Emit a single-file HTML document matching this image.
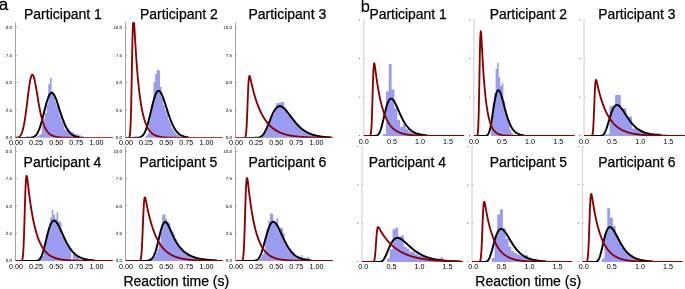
<!DOCTYPE html><html><head><meta charset="utf-8"><title>Reaction time distributions</title><style>html,body{margin:0;padding:0;background:#fff;overflow:hidden}svg{display:block;will-change:transform}text{font-family:"Liberation Sans",sans-serif;fill:#000}</style></head><body>
<svg width="685" height="289" viewBox="0 0 685 289">
<rect width="685" height="289" fill="#fff"/>
<path d="M35.34,137.85V136.99H36.96V137.85ZM36.96,137.85V136.23H38.58V137.85ZM38.58,137.85V135.32H40.20V137.85ZM40.20,137.85V134.35H41.82V137.85ZM41.82,137.85V125.12H43.44V137.85ZM43.44,137.85V118.58H45.06V137.85ZM45.06,137.85V113.03H46.68V137.85ZM46.68,137.85V104.68H48.30V137.85ZM48.30,137.85V84.30H49.92V137.85ZM49.92,137.85V78.10H51.54V137.85ZM51.54,137.85V91.00H53.16V137.85ZM53.16,137.85V96.13H54.78V137.85ZM54.78,137.85V101.84H56.40V137.85ZM56.40,137.85V105.44H58.02V137.85ZM58.02,137.85V108.25H59.64V137.85ZM59.64,137.85V116.81H61.26V137.85ZM61.26,137.85V121.15H62.88V137.85ZM62.88,137.85V124.59H64.50V137.85ZM64.50,137.85V129.68H66.12V137.85ZM66.12,137.85V127.19H67.74V137.85ZM67.74,137.85V128.48H69.36V137.85ZM69.36,137.85V130.88H70.98V137.85ZM70.98,137.85V131.74H72.60V137.85ZM72.60,137.85V132.47H74.22V137.85ZM74.22,137.85V133.89H75.84V137.85ZM75.84,137.85V134.33H77.46V137.85ZM77.46,137.85V134.82H79.08V137.85ZM79.08,137.85V135.35H80.70V137.85ZM80.70,137.85V135.84H82.32V137.85ZM82.32,137.85V136.24H83.94V137.85Z" fill="#9b9bf1"/>
<path d="M145.44,137.85V135.79H147.06V137.85ZM147.06,137.85V133.92H148.68V137.85ZM148.68,137.85V120.97H150.30V137.85ZM150.30,137.85V112.05H151.92V137.85ZM151.92,137.85V104.38H153.54V137.85ZM153.54,137.85V82.00H155.16V137.85ZM155.16,137.85V74.00H156.78V137.85ZM156.78,137.85V69.50H158.40V137.85ZM158.40,137.85V70.50H160.02V137.85ZM160.02,137.85V87.00H161.64V137.85ZM161.64,137.85V97.93H163.26V137.85ZM163.26,137.85V104.90H164.88V137.85ZM164.88,137.85V109.90H166.50V137.85ZM166.50,137.85V114.31H168.12V137.85ZM168.12,137.85V120.29H169.74V137.85ZM169.74,137.85V123.41H171.36V137.85ZM171.36,137.85V128.31H172.98V137.85ZM172.98,137.85V130.29H174.60V137.85ZM174.60,137.85V132.75H176.22V137.85ZM176.22,137.85V134.31H177.84V137.85ZM177.84,137.85V135.35H179.46V137.85ZM179.46,137.85V136.20H181.08V137.85Z" fill="#9b9bf1"/>
<path d="M261.52,137.85V135.74H263.14V137.85ZM263.14,137.85V133.82H264.76V137.85ZM264.76,137.85V131.59H266.38V137.85ZM266.38,137.85V128.55H268.00V137.85ZM268.00,137.85V124.47H269.62V137.85ZM269.62,137.85V119.68H271.24V137.85ZM271.24,137.85V116.33H272.86V137.85ZM272.86,137.85V114.82H274.48V137.85ZM274.48,137.85V110.14H276.10V137.85ZM276.10,137.85V103.30H277.72V137.85ZM277.72,137.85V103.30H279.34V137.85ZM279.34,137.85V102.60H280.96V137.85ZM280.96,137.85V102.10H282.58V137.85ZM282.58,137.85V102.10H284.20V137.85ZM284.20,137.85V107.40H285.82V137.85ZM285.82,137.85V109.70H287.44V137.85ZM287.44,137.85V114.41H289.06V137.85ZM289.06,137.85V115.82H290.68V137.85ZM290.68,137.85V117.38H292.30V137.85ZM292.30,137.85V118.63H293.92V137.85ZM293.92,137.85V121.39H295.54V137.85ZM295.54,137.85V124.09H297.16V137.85ZM297.16,137.85V125.33H298.78V137.85ZM298.78,137.85V126.94H300.40V137.85ZM300.40,137.85V128.40H302.02V137.85ZM302.02,137.85V129.86H303.64V137.85ZM303.64,137.85V130.67H305.26V137.85ZM305.26,137.85V131.65H306.88V137.85ZM306.88,137.85V132.27H308.50V137.85ZM308.50,137.85V132.24H310.12V137.85ZM310.12,137.85V133.28H311.74V137.85ZM311.74,137.85V134.01H313.36V137.85ZM313.36,137.85V134.42H314.98V137.85ZM314.98,137.85V134.88H316.60V137.85ZM316.60,137.85V135.41H318.22V137.85ZM318.22,137.85V135.74H319.84V137.85ZM319.84,137.85V136.02H321.46V137.85ZM321.46,137.85V136.50H323.08V137.85ZM323.08,137.85V136.54H324.70V137.85ZM324.70,137.85V136.84H326.32V137.85ZM326.32,137.85V136.96H327.94V137.85Z" fill="#9b9bf1"/>
<path d="M37.16,260.90V260.38H38.78V260.90ZM38.78,260.90V257.20H40.40V260.90ZM40.40,260.90V257.79H42.02V260.90ZM42.02,260.90V256.08H43.64V260.90ZM43.64,260.90V248.08H45.26V260.90ZM45.26,260.90V241.18H46.88V260.90ZM46.88,260.90V233.04H48.50V260.90ZM48.50,260.90V229.11H50.12V260.90ZM50.12,260.90V217.70H51.74V260.90ZM51.74,260.90V210.00H53.36V260.90ZM53.36,260.90V215.00H54.98V260.90ZM54.98,260.90V218.80H56.60V260.90ZM56.60,260.90V212.20H58.22V260.90ZM58.22,260.90V221.00H59.84V260.90ZM59.84,260.90V222.20H61.46V260.90ZM61.46,260.90V236.19H63.08V260.90ZM63.08,260.90V237.60H64.70V260.90ZM64.70,260.90V240.69H66.32V260.90ZM66.32,260.90V243.17H67.94V260.90ZM67.94,260.90V245.76H69.56V260.90ZM69.56,260.90V249.84H71.18V260.90ZM71.18,260.90V259.80H72.80V260.90ZM72.80,260.90V252.73H74.42V260.90ZM74.42,260.90V254.79H76.04V260.90ZM76.04,260.90V255.86H77.66V260.90ZM77.66,260.90V256.21H79.28V260.90Z" fill="#9b9bf1"/>
<path d="M147.62,260.90V259.77H149.24V260.90ZM149.24,260.90V257.76H150.86V260.90ZM150.86,260.90V260.11H152.48V260.90ZM152.48,260.90V258.91H154.10V260.90ZM154.10,260.90V256.60H155.72V260.90ZM155.72,260.90V252.73H157.34V260.90ZM157.34,260.90V248.73H158.96V260.90ZM158.96,260.90V242.87H160.58V260.90ZM160.58,260.90V231.64H162.20V260.90ZM162.20,260.90V214.40H163.82V260.90ZM163.82,260.90V214.40H165.44V260.90ZM165.44,260.90V218.81H167.06V260.90ZM167.06,260.90V221.32H168.68V260.90ZM168.68,260.90V223.36H170.30V260.90ZM170.30,260.90V230.27H171.92V260.90ZM171.92,260.90V231.41H173.54V260.90ZM173.54,260.90V234.51H175.16V260.90ZM175.16,260.90V238.88H176.78V260.90ZM176.78,260.90V243.01H178.40V260.90ZM178.40,260.90V245.78H180.02V260.90ZM180.02,260.90V247.29H181.64V260.90ZM181.64,260.90V248.12H183.26V260.90ZM183.26,260.90V251.15H184.88V260.90ZM184.88,260.90V252.54H186.50V260.90ZM186.50,260.90V253.24H188.12V260.90ZM188.12,260.90V254.61H189.74V260.90ZM189.74,260.90V255.39H191.36V260.90ZM191.36,260.90V256.24H192.98V260.90ZM192.98,260.90V256.53H194.60V260.90ZM194.60,260.90V257.02H196.22V260.90ZM196.22,260.90V257.69H197.84V260.90ZM197.84,260.90V258.26H199.46V260.90ZM199.46,260.90V258.55H201.08V260.90ZM201.08,260.90V258.78H202.70V260.90ZM202.70,260.90V258.97H204.32V260.90Z" fill="#9b9bf1"/>
<path d="M258.68,260.90V258.99H260.30V260.90ZM260.30,260.90V257.20H261.92V260.90ZM261.92,260.90V254.54H263.54V260.90ZM263.54,260.90V252.29H265.16V260.90ZM265.16,260.90V236.55H266.78V260.90ZM266.78,260.90V229.35H268.40V260.90ZM268.40,260.90V220.83H270.02V260.90ZM270.02,260.90V213.30H271.64V260.90ZM271.64,260.90V214.00H273.26V260.90ZM273.26,260.90V221.00H274.88V260.90ZM274.88,260.90V222.34H276.50V260.90ZM276.50,260.90V218.20H278.12V260.90ZM278.12,260.90V230.54H279.74V260.90ZM279.74,260.90V227.70H281.36V260.90ZM281.36,260.90V227.70H282.98V260.90ZM282.98,260.90V233.30H284.60V260.90ZM284.60,260.90V244.51H286.22V260.90ZM286.22,260.90V246.52H287.84V260.90ZM287.84,260.90V248.90H289.46V260.90ZM289.46,260.90V251.46H291.08V260.90ZM291.08,260.90V252.81H292.70V260.90ZM292.70,260.90V254.37H294.32V260.90ZM294.32,260.90V255.86H295.94V260.90ZM295.94,260.90V256.10H297.56V260.90ZM297.56,260.90V256.90H299.18V260.90ZM299.18,260.90V257.22H300.80V260.90ZM300.80,260.90V255.20H302.42V260.90ZM302.42,260.90V257.72H304.04V260.90ZM304.04,260.90V258.07H305.66V260.90ZM305.66,260.90V258.00H307.28V260.90ZM307.28,260.90V256.80H308.90V260.90ZM308.90,260.90V258.77H310.52V260.90Z" fill="#9b9bf1"/>
<path d="M383.10,135.90V134.00H385.93V135.90ZM385.93,135.90V91.50H388.76V135.90ZM388.76,135.90V64.00H391.59V135.90ZM391.59,135.90V89.50H394.42V135.90ZM394.42,135.90V108.60H397.25V135.90ZM397.25,135.90V120.00H400.08V135.90ZM400.08,135.90V127.00H402.91V135.90ZM402.91,135.90V124.20H405.74V135.90ZM405.74,135.90V129.30H408.57V135.90ZM408.57,135.90V131.50H411.40V135.90ZM411.40,135.90V132.30H414.23V135.90ZM414.23,135.90V133.00H417.06V135.90ZM417.06,135.90V133.40H419.89V135.90ZM419.89,135.90V133.60H422.72V135.90Z" fill="#9b9bf1"/>
<path d="M491.00,135.90V121.00H492.55V135.90ZM492.55,135.90V103.00H494.10V135.90ZM494.10,135.90V93.00H495.65V135.90ZM495.65,135.90V68.80H497.20V135.90ZM497.20,135.90V63.10H498.75V135.90ZM498.75,135.90V77.30H500.30V135.90ZM500.30,135.90V85.80H501.85V135.90ZM501.85,135.90V83.00H503.40V135.90ZM503.40,135.90V101.00H504.95V135.90ZM504.95,135.90V111.00H506.50V135.90ZM506.50,135.90V118.50H508.05V135.90ZM508.05,135.90V124.50H509.60V135.90ZM509.60,135.90V129.50H511.15V135.90ZM511.15,135.90V132.50H512.70V135.90ZM512.70,135.90V134.20H514.25V135.90Z" fill="#9b9bf1"/>
<path d="M603.90,135.90V134.20H609.52V135.90ZM609.52,135.90V106.20H615.14V135.90ZM615.14,135.90V95.00H620.76V135.90ZM620.76,135.90V108.30H626.38V135.90ZM626.38,135.90V116.60H632.00V135.90ZM632.00,135.90V128.40H637.62V135.90ZM637.62,135.90V129.80H643.24V135.90ZM643.24,135.90V132.20H648.86V135.90ZM648.86,135.90V133.00H654.48V135.90ZM654.48,135.90V133.30H660.10V135.90ZM660.10,135.90V134.70H665.72V135.90Z" fill="#9b9bf1"/>
<path d="M386.90,261.90V258.40H389.72V261.90ZM389.72,261.90V249.20H392.54V261.90ZM392.54,261.90V229.30H395.36V261.90ZM395.36,261.90V227.60H398.18V261.90ZM398.18,261.90V236.50H401.00V261.90ZM401.00,261.90V235.60H403.82V261.90ZM403.82,261.90V246.70H406.64V261.90ZM406.64,261.90V248.40H409.46V261.90ZM409.46,261.90V251.70H412.28V261.90ZM412.28,261.90V251.70H415.10V261.90ZM415.10,261.90V254.20H417.92V261.90ZM417.92,261.90V255.50H420.74V261.90ZM420.74,261.90V255.50H423.56V261.90ZM423.56,261.90V256.70H426.38V261.90ZM426.38,261.90V257.50H429.20V261.90ZM429.20,261.90V258.00H432.02V261.90ZM432.02,261.90V258.50H434.84V261.90ZM434.84,261.90V259.00H437.66V261.90ZM437.66,261.90V259.00H440.48V261.90ZM440.48,261.90V257.20H443.30V261.90Z" fill="#9b9bf1"/>
<path d="M491.70,261.90V258.00H494.49V261.90ZM494.49,261.90V236.50H497.28V261.90ZM497.28,261.90V214.40H500.07V261.90ZM500.07,261.90V209.30H502.86V261.90ZM502.86,261.90V228.30H505.65V261.90ZM505.65,261.90V238.70H508.44V261.90ZM508.44,261.90V246.50H511.23V261.90ZM511.23,261.90V250.90H514.02V261.90ZM514.02,261.90V253.10H516.81V261.90ZM516.81,261.90V254.50H519.60V261.90ZM519.60,261.90V255.50H522.39V261.90ZM522.39,261.90V256.50H525.18V261.90ZM525.18,261.90V255.30H527.97V261.90ZM527.97,261.90V257.50H530.76V261.90ZM530.76,261.90V258.50H533.55V261.90ZM533.55,261.90V259.20H536.34V261.90ZM536.34,261.90V259.80H539.13V261.90Z" fill="#9b9bf1"/>
<path d="M601.70,261.90V258.60H604.49V261.90ZM604.49,261.90V233.20H607.28V261.90ZM607.28,261.90V208.20H610.07V261.90ZM610.07,261.90V217.70H612.86V261.90ZM612.86,261.90V226.10H615.65V261.90ZM615.65,261.90V235.00H618.44V261.90ZM618.44,261.90V242.00H621.23V261.90ZM621.23,261.90V247.60H624.02V261.90ZM624.02,261.90V251.00H626.81V261.90ZM626.81,261.90V253.50H629.60V261.90ZM629.60,261.90V255.50H632.39V261.90ZM632.39,261.90V257.00H635.18V261.90ZM635.18,261.90V258.00H637.97V261.90ZM637.97,261.90V259.00H640.76V261.90ZM640.76,261.90V259.60H643.55V261.90Z" fill="#9b9bf1"/>
<path d="M15.50,22.40V137.85" stroke="#858585" stroke-width="0.75" fill="none"/>
<path d="M15.60,137.40h1.7" stroke="#858585" stroke-width="0.6"/>
<path d="M15.60,109.95h1.7" stroke="#858585" stroke-width="0.6"/>
<path d="M15.60,82.50h1.7" stroke="#858585" stroke-width="0.6"/>
<path d="M15.60,55.05h1.7" stroke="#858585" stroke-width="0.6"/>
<path d="M15.60,27.60h1.7" stroke="#858585" stroke-width="0.6"/>
<path d="M125.50,22.40V137.85" stroke="#858585" stroke-width="0.75" fill="none"/>
<path d="M125.60,137.40h1.7" stroke="#858585" stroke-width="0.6"/>
<path d="M125.60,109.95h1.7" stroke="#858585" stroke-width="0.6"/>
<path d="M125.60,82.50h1.7" stroke="#858585" stroke-width="0.6"/>
<path d="M125.60,55.05h1.7" stroke="#858585" stroke-width="0.6"/>
<path d="M125.60,27.60h1.7" stroke="#858585" stroke-width="0.6"/>
<path d="M235.50,22.40V137.85" stroke="#858585" stroke-width="0.75" fill="none"/>
<path d="M235.60,137.40h1.7" stroke="#858585" stroke-width="0.6"/>
<path d="M235.60,109.95h1.7" stroke="#858585" stroke-width="0.6"/>
<path d="M235.60,82.50h1.7" stroke="#858585" stroke-width="0.6"/>
<path d="M235.60,55.05h1.7" stroke="#858585" stroke-width="0.6"/>
<path d="M235.60,27.60h1.7" stroke="#858585" stroke-width="0.6"/>
<path d="M15.50,146.00V260.90" stroke="#858585" stroke-width="0.75" fill="none"/>
<path d="M15.60,260.45h1.7" stroke="#858585" stroke-width="0.6"/>
<path d="M15.60,233.20h1.7" stroke="#858585" stroke-width="0.6"/>
<path d="M15.60,205.95h1.7" stroke="#858585" stroke-width="0.6"/>
<path d="M15.60,178.70h1.7" stroke="#858585" stroke-width="0.6"/>
<path d="M15.60,151.45h1.7" stroke="#858585" stroke-width="0.6"/>
<path d="M125.50,146.00V260.90" stroke="#858585" stroke-width="0.75" fill="none"/>
<path d="M125.60,260.45h1.7" stroke="#858585" stroke-width="0.6"/>
<path d="M125.60,233.20h1.7" stroke="#858585" stroke-width="0.6"/>
<path d="M125.60,205.95h1.7" stroke="#858585" stroke-width="0.6"/>
<path d="M125.60,178.70h1.7" stroke="#858585" stroke-width="0.6"/>
<path d="M125.60,151.45h1.7" stroke="#858585" stroke-width="0.6"/>
<path d="M235.50,146.00V260.90" stroke="#858585" stroke-width="0.75" fill="none"/>
<path d="M235.60,260.45h1.7" stroke="#858585" stroke-width="0.6"/>
<path d="M235.60,233.20h1.7" stroke="#858585" stroke-width="0.6"/>
<path d="M235.60,205.95h1.7" stroke="#858585" stroke-width="0.6"/>
<path d="M235.60,178.70h1.7" stroke="#858585" stroke-width="0.6"/>
<path d="M235.60,151.45h1.7" stroke="#858585" stroke-width="0.6"/>
<path d="M363.80,20.30V135.90" stroke="#bdbdbd" stroke-width="0.75" fill="none"/>
<path d="M363.80,135.45h1.6" stroke="#aaa" stroke-width="0.6"/>
<circle cx="359.60" cy="135.45" r="0.55" fill="#555"/>
<path d="M363.80,97.00h1.6" stroke="#aaa" stroke-width="0.6"/>
<circle cx="359.60" cy="97.00" r="0.55" fill="#555"/>
<path d="M363.80,58.55h1.6" stroke="#aaa" stroke-width="0.6"/>
<circle cx="359.60" cy="58.55" r="0.55" fill="#555"/>
<path d="M363.80,20.10h1.6" stroke="#aaa" stroke-width="0.6"/>
<circle cx="359.60" cy="20.10" r="0.55" fill="#555"/>
<path d="M473.90,20.30V135.90" stroke="#bdbdbd" stroke-width="0.75" fill="none"/>
<path d="M473.90,135.45h1.6" stroke="#aaa" stroke-width="0.6"/>
<circle cx="469.70" cy="135.45" r="0.55" fill="#555"/>
<path d="M473.90,97.00h1.6" stroke="#aaa" stroke-width="0.6"/>
<circle cx="469.70" cy="97.00" r="0.55" fill="#555"/>
<path d="M473.90,58.55h1.6" stroke="#aaa" stroke-width="0.6"/>
<circle cx="469.70" cy="58.55" r="0.55" fill="#555"/>
<path d="M473.90,20.10h1.6" stroke="#aaa" stroke-width="0.6"/>
<circle cx="469.70" cy="20.10" r="0.55" fill="#555"/>
<path d="M584.00,20.30V135.90" stroke="#bdbdbd" stroke-width="0.75" fill="none"/>
<path d="M584.00,135.45h1.6" stroke="#aaa" stroke-width="0.6"/>
<circle cx="579.80" cy="135.45" r="0.55" fill="#555"/>
<path d="M584.00,97.00h1.6" stroke="#aaa" stroke-width="0.6"/>
<circle cx="579.80" cy="97.00" r="0.55" fill="#555"/>
<path d="M584.00,58.55h1.6" stroke="#aaa" stroke-width="0.6"/>
<circle cx="579.80" cy="58.55" r="0.55" fill="#555"/>
<path d="M584.00,20.10h1.6" stroke="#aaa" stroke-width="0.6"/>
<circle cx="579.80" cy="20.10" r="0.55" fill="#555"/>
<path d="M362.00,146.50V261.90" stroke="#bdbdbd" stroke-width="0.75" fill="none"/>
<path d="M362.00,261.45h1.6" stroke="#aaa" stroke-width="0.6"/>
<circle cx="357.80" cy="261.45" r="0.55" fill="#555"/>
<path d="M362.00,223.15h1.6" stroke="#aaa" stroke-width="0.6"/>
<circle cx="357.80" cy="223.15" r="0.55" fill="#555"/>
<path d="M362.00,184.85h1.6" stroke="#aaa" stroke-width="0.6"/>
<circle cx="357.80" cy="184.85" r="0.55" fill="#555"/>
<path d="M362.00,146.55h1.6" stroke="#aaa" stroke-width="0.6"/>
<circle cx="357.80" cy="146.55" r="0.55" fill="#555"/>
<path d="M472.00,146.50V261.90" stroke="#bdbdbd" stroke-width="0.75" fill="none"/>
<path d="M472.00,261.45h1.6" stroke="#aaa" stroke-width="0.6"/>
<circle cx="467.80" cy="261.45" r="0.55" fill="#555"/>
<path d="M472.00,223.15h1.6" stroke="#aaa" stroke-width="0.6"/>
<circle cx="467.80" cy="223.15" r="0.55" fill="#555"/>
<path d="M472.00,184.85h1.6" stroke="#aaa" stroke-width="0.6"/>
<circle cx="467.80" cy="184.85" r="0.55" fill="#555"/>
<path d="M472.00,146.55h1.6" stroke="#aaa" stroke-width="0.6"/>
<circle cx="467.80" cy="146.55" r="0.55" fill="#555"/>
<path d="M582.40,146.50V261.90" stroke="#bdbdbd" stroke-width="0.75" fill="none"/>
<path d="M582.40,261.45h1.6" stroke="#aaa" stroke-width="0.6"/>
<circle cx="578.20" cy="261.45" r="0.55" fill="#555"/>
<path d="M582.40,223.15h1.6" stroke="#aaa" stroke-width="0.6"/>
<circle cx="578.20" cy="223.15" r="0.55" fill="#555"/>
<path d="M582.40,184.85h1.6" stroke="#aaa" stroke-width="0.6"/>
<circle cx="578.20" cy="184.85" r="0.55" fill="#555"/>
<path d="M582.40,146.55h1.6" stroke="#aaa" stroke-width="0.6"/>
<circle cx="578.20" cy="146.55" r="0.55" fill="#555"/>
<clipPath id="c1a"><rect x="14.60" y="22.20" width="99.40" height="115.65"/></clipPath>
<g clip-path="url(#c1a)">
<path d="M18.80,137.85 L19.20,137.85 L19.60,137.85 L20.00,137.85 L20.40,137.85 L20.80,137.85 L21.20,137.85 L21.60,137.85 L22.00,137.85 L22.40,137.85 L22.80,137.85 L23.20,137.85 L23.60,137.85 L24.00,137.85 L24.40,137.85 L24.80,137.85 L25.20,137.85 L25.60,137.85 L26.00,137.85 L26.40,137.84 L26.80,137.84 L27.20,137.84 L27.60,137.83 L28.00,137.83 L28.40,137.82 L28.80,137.81 L29.20,137.79 L29.60,137.77 L30.00,137.74 L30.40,137.71 L30.80,137.67 L31.20,137.61 L31.60,137.55 L32.00,137.47 L32.40,137.37 L32.80,137.25 L33.20,137.10 L33.60,136.93 L34.00,136.72 L34.40,136.48 L34.80,136.20 L35.20,135.87 L35.60,135.49 L36.00,135.06 L36.40,134.58 L36.80,134.03 L37.20,133.41 L37.60,132.73 L38.00,131.97 L38.40,131.14 L38.80,130.24 L39.20,129.25 L39.60,128.19 L40.00,127.06 L40.40,125.85 L40.80,124.57 L41.20,123.23 L41.60,121.82 L42.00,120.36 L42.40,118.85 L42.80,117.31 L43.20,115.72 L43.60,114.12 L44.00,112.50 L44.40,110.89 L44.80,109.28 L45.20,107.69 L45.60,106.13 L46.00,104.62 L46.40,103.16 L46.80,101.76 L47.20,100.44 L47.60,99.20 L48.00,98.05 L48.40,97.00 L48.80,96.06 L49.20,95.23 L49.60,94.52 L50.00,93.93 L50.40,93.46 L50.80,93.11 L51.20,92.90 L51.60,92.80 L52.00,92.83 L52.40,92.99 L52.80,93.25 L53.20,93.64 L53.60,94.13 L54.00,94.72 L54.40,95.40 L54.80,96.18 L55.20,97.04 L55.60,97.97 L56.00,98.97 L56.40,100.03 L56.80,101.15 L57.20,102.30 L57.60,103.49 L58.00,104.71 L58.40,105.95 L58.80,107.21 L59.20,108.48 L59.60,109.74 L60.00,111.01 L60.40,112.26 L60.80,113.50 L61.20,114.72 L61.60,115.92 L62.00,117.09 L62.40,118.24 L62.80,119.35 L63.20,120.43 L63.60,121.47 L64.00,122.47 L64.40,123.44 L64.80,124.36 L65.20,125.25 L65.60,126.09 L66.00,126.89 L66.40,127.66 L66.80,128.38 L67.20,129.07 L67.60,129.71 L68.00,130.32 L68.40,130.89 L68.80,131.43 L69.20,131.93 L69.60,132.40 L70.00,132.84 L70.40,133.25 L70.80,133.63 L71.20,133.99 L71.60,134.32 L72.00,134.62 L72.40,134.90 L72.80,135.16 L73.20,135.40 L73.60,135.62 L74.00,135.82 L74.40,136.01 L74.80,136.18 L75.20,136.34 L75.60,136.48 L76.00,136.61 L76.40,136.73 L76.80,136.84 L77.20,136.94 L77.60,137.03 L78.00,137.11 L78.40,137.19 L78.80,137.25 L79.20,137.31 L79.60,137.37" stroke="#000" stroke-width="1.95" fill="none" stroke-linejoin="round"/>
<path d="M15.60,137.78 L16.00,137.75 L16.40,137.71 L16.80,137.65 L17.20,137.58 L17.60,137.49 L18.00,137.37 L18.40,137.21 L18.80,137.01 L19.20,136.75 L19.60,136.44 L20.00,136.04 L20.40,135.56 L20.80,134.97 L21.20,134.25 L21.60,133.41 L22.00,132.41 L22.40,131.24 L22.80,129.88 L23.20,128.34 L23.60,126.58 L24.00,124.62 L24.40,122.44 L24.80,120.05 L25.20,117.46 L25.60,114.68 L26.00,111.74 L26.40,108.66 L26.80,105.47 L27.20,102.22 L27.60,98.94 L28.00,95.70 L28.40,92.52 L28.80,89.48 L29.20,86.61 L29.60,83.97 L30.00,81.59 L30.40,79.53 L30.80,77.81 L31.20,76.45 L31.60,75.47 L32.00,74.89 L32.40,74.70 L32.80,74.89 L33.20,75.45 L33.60,76.36 L34.00,77.59 L34.40,79.09 L34.80,80.85 L35.20,82.82 L35.60,84.96 L36.00,87.23 L36.40,89.60 L36.80,92.03 L37.20,94.49 L37.60,96.95 L38.00,99.38 L38.40,101.76 L38.80,104.08 L39.20,106.32 L39.60,108.47 L40.00,110.51 L40.40,112.46 L40.80,114.29 L41.20,116.02 L41.60,117.64 L42.00,119.15 L42.40,120.57 L42.80,121.88 L43.20,123.11 L43.60,124.24 L44.00,125.29 L44.40,126.26 L44.80,127.16 L45.20,127.99 L45.60,128.76 L46.00,129.47 L46.40,130.12 L46.80,130.72 L47.20,131.28 L47.60,131.79 L48.00,132.27 L48.40,132.70 L48.80,133.10 L49.20,133.48 L49.60,133.82 L50.00,134.13 L50.40,134.42 L50.80,134.69 L51.20,134.94 L51.60,135.17 L52.00,135.37 L52.40,135.57 L52.80,135.75 L53.20,135.91 L53.60,136.06 L54.00,136.20 L54.40,136.33 L54.80,136.45 L55.20,136.56 L55.60,136.66 L56.00,136.75 L56.40,136.84 L56.80,136.92 L57.20,136.99 L57.60,137.06 L58.00,137.12 L58.40,137.18 L58.80,137.23 L59.20,137.28 L59.60,137.32 L60.00,137.36 L60.40,137.40 L60.80,137.44 L61.20,137.47 L61.60,137.50 L62.00,137.53 L62.40,137.55 L62.80,137.57 L63.20,137.60 L63.60,137.62 L64.00,137.63 L64.40,137.65 L64.80,137.67 L65.20,137.68 L65.60,137.69 L66.00,137.71 L66.40,137.72 L66.80,137.73 L67.20,137.74 L67.60,137.75 L68.00,137.75 L68.40,137.76 L68.80,137.77 L69.20,137.78 L69.60,137.78 L70.00,137.79 L70.40,137.79 L70.80,137.80 L71.20,137.80 L71.60,137.80 L72.00,137.81 L72.40,137.81 L72.80,137.81 L73.20,137.82 L73.60,137.82 L74.00,137.82 L74.40,137.82 L74.80,137.83 L75.20,137.83 L75.60,137.83 L76.00,137.83 L76.40,137.83 L76.80,137.83 L77.20,137.84 L77.60,137.84 L78.00,137.84 L78.40,137.84 L78.80,137.84 L79.20,137.84 L79.60,137.84 L80.00,137.84 L80.40,137.84 L80.80,137.84 L81.20,137.84 L81.60,137.84 L82.00,137.84 L82.40,137.84 L82.80,137.85 L83.20,137.85 L83.60,137.85 L84.00,137.85 L84.40,137.85 L84.80,137.85 L85.20,137.85 L85.60,137.85 L86.00,137.85 L86.40,137.85 L86.80,137.85 L87.20,137.85 L87.60,137.85 L88.00,137.85 L88.40,137.85 L88.80,137.85 L89.20,137.85 L89.60,137.85 L90.00,137.85 L90.40,137.85 L90.80,137.85 L91.20,137.85 L91.60,137.85 L92.00,137.85 L92.40,137.85 L92.80,137.85 L93.20,137.85 L93.60,137.85 L94.00,137.85 L94.40,137.85 L94.80,137.85 L95.20,137.85 L95.60,137.85 L96.00,137.85 L96.40,137.85 L96.80,137.85 L97.20,137.85 L97.60,137.85 L98.00,137.85 L98.40,137.85 L98.80,137.85 L99.20,137.85 L99.60,137.85 L100.00,137.85 L100.40,137.85 L100.80,137.85 L101.20,137.85 L101.60,137.85 L102.00,137.85 L102.40,137.85 L102.80,137.85 L103.20,137.85 L103.60,137.85 L104.00,137.85 L104.40,137.85 L104.80,137.85 L105.20,137.85 L105.60,137.85 L106.00,137.85 L106.40,137.85 L106.80,137.85 L107.20,137.85 L107.60,137.85 L108.00,137.85 L108.40,137.85 L108.80,137.85 L109.20,137.85 L109.60,137.85 L110.00,137.85 L110.40,137.85 L110.80,137.85 L111.20,137.85 L111.60,137.85 L112.00,137.85 L112.40,137.85 L112.80,137.85" stroke="#8b0000" stroke-width="1.85" fill="none" stroke-linejoin="round"/></g>
<clipPath id="c2a"><rect x="124.60" y="22.20" width="99.20" height="115.65"/></clipPath>
<g clip-path="url(#c2a)">
<path d="M129.60,137.85 L130.00,137.85 L130.40,137.85 L130.80,137.85 L131.20,137.85 L131.60,137.85 L132.00,137.85 L132.40,137.85 L132.80,137.85 L133.20,137.85 L133.60,137.85 L134.00,137.84 L134.40,137.84 L134.80,137.84 L135.20,137.83 L135.60,137.83 L136.00,137.82 L136.40,137.80 L136.80,137.78 L137.20,137.76 L137.60,137.73 L138.00,137.69 L138.40,137.63 L138.80,137.57 L139.20,137.48 L139.60,137.38 L140.00,137.25 L140.40,137.10 L140.80,136.91 L141.20,136.68 L141.60,136.42 L142.00,136.11 L142.40,135.74 L142.80,135.33 L143.20,134.84 L143.60,134.30 L144.00,133.68 L144.40,132.99 L144.80,132.22 L145.20,131.37 L145.60,130.44 L146.00,129.42 L146.40,128.32 L146.80,127.14 L147.20,125.88 L147.60,124.54 L148.00,123.13 L148.40,121.65 L148.80,120.11 L149.20,118.52 L149.60,116.89 L150.00,115.22 L150.40,113.53 L150.80,111.82 L151.20,110.11 L151.60,108.42 L152.00,106.74 L152.40,105.10 L152.80,103.50 L153.20,101.96 L153.60,100.49 L154.00,99.09 L154.40,97.78 L154.80,96.57 L155.20,95.46 L155.60,94.46 L156.00,93.58 L156.40,92.82 L156.80,92.19 L157.20,91.68 L157.60,91.29 L158.00,91.04 L158.40,90.92 L158.80,90.92 L159.20,91.04 L159.60,91.28 L160.00,91.64 L160.40,92.10 L160.80,92.67 L161.20,93.34 L161.60,94.09 L162.00,94.93 L162.40,95.85 L162.80,96.83 L163.20,97.88 L163.60,98.97 L164.00,100.12 L164.40,101.30 L164.80,102.51 L165.20,103.75 L165.60,105.00 L166.00,106.27 L166.40,107.54 L166.80,108.81 L167.20,110.07 L167.60,111.32 L168.00,112.56 L168.40,113.77 L168.80,114.97 L169.20,116.14 L169.60,117.28 L170.00,118.39 L170.40,119.46 L170.80,120.50 L171.20,121.50 L171.60,122.47 L172.00,123.40 L172.40,124.29 L172.80,125.14 L173.20,125.95 L173.60,126.73 L174.00,127.46 L174.40,128.16 L174.80,128.83 L175.20,129.45 L175.60,130.04 L176.00,130.60 L176.40,131.13 L176.80,131.62 L177.20,132.08 L177.60,132.52 L178.00,132.93 L178.40,133.30 L178.80,133.66 L179.20,133.99 L179.60,134.30 L180.00,134.58 L180.40,134.85 L180.80,135.10 L181.20,135.32 L181.60,135.54 L182.00,135.73 L182.40,135.91 L182.80,136.08 L183.20,136.23 L183.60,136.37 L184.00,136.50 L184.40,136.62 L184.80,136.73 L185.20,136.83 L185.60,136.92 L186.00,137.01 L186.40,137.09 L186.80,137.16 L187.20,137.22 L187.60,137.28 L188.00,137.33 L188.40,137.38" stroke="#000" stroke-width="1.95" fill="none" stroke-linejoin="round"/>
<path d="M125.60,137.85 L126.00,137.85 L126.40,137.85 L126.80,137.85 L127.20,137.85 L127.60,137.85 L128.00,137.84 L128.40,137.82 L128.80,137.73 L129.20,137.42 L129.60,136.49 L130.00,134.11 L130.40,128.95 L130.80,119.44 L131.20,104.56 L131.60,84.84 L132.00,62.87 L132.40,42.60 L132.80,27.59 L133.20,19.61 L133.60,19.40 L134.00,21.41 L134.40,27.26 L134.80,34.12 L135.20,41.10 L135.60,47.80 L136.00,54.10 L136.40,59.97 L136.80,65.43 L137.20,70.51 L137.60,75.24 L138.00,79.63 L138.40,83.71 L138.80,87.51 L139.20,91.04 L139.60,94.32 L140.00,97.38 L140.40,100.22 L140.80,102.86 L141.20,105.31 L141.60,107.59 L142.00,109.72 L142.40,111.69 L142.80,113.52 L143.20,115.23 L143.60,116.82 L144.00,118.29 L144.40,119.66 L144.80,120.94 L145.20,122.13 L145.60,123.23 L146.00,124.25 L146.40,125.21 L146.80,126.10 L147.20,126.92 L147.60,127.69 L148.00,128.40 L148.40,129.06 L148.80,129.68 L149.20,130.25 L149.60,130.78 L150.00,131.28 L150.40,131.74 L150.80,132.17 L151.20,132.57 L151.60,132.94 L152.00,133.28 L152.40,133.60 L152.80,133.90 L153.20,134.18 L153.60,134.44 L154.00,134.68 L154.40,134.90 L154.80,135.11 L155.20,135.30 L155.60,135.48 L156.00,135.64 L156.40,135.80 L156.80,135.94 L157.20,136.08 L157.60,136.20 L158.00,136.32 L158.40,136.42 L158.80,136.52 L159.20,136.62 L159.60,136.70 L160.00,136.78 L160.40,136.86 L160.80,136.93 L161.20,136.99 L161.60,137.05 L162.00,137.11 L162.40,137.16 L162.80,137.21 L163.20,137.25 L163.60,137.30 L164.00,137.33 L164.40,137.37 L164.80,137.40 L165.20,137.44 L165.60,137.46 L166.00,137.49 L166.40,137.52 L166.80,137.54 L167.20,137.56 L167.60,137.58 L168.00,137.60 L168.40,137.62 L168.80,137.63 L169.20,137.65 L169.60,137.66 L170.00,137.68 L170.40,137.69 L170.80,137.70 L171.20,137.71 L171.60,137.72 L172.00,137.73 L172.40,137.74 L172.80,137.75 L173.20,137.75 L173.60,137.76 L174.00,137.77 L174.40,137.77 L174.80,137.78 L175.20,137.78 L175.60,137.79 L176.00,137.79 L176.40,137.80 L176.80,137.80 L177.20,137.80 L177.60,137.81 L178.00,137.81 L178.40,137.81 L178.80,137.82 L179.20,137.82 L179.60,137.82 L180.00,137.82 L180.40,137.82 L180.80,137.83 L181.20,137.83 L181.60,137.83 L182.00,137.83 L182.40,137.83 L182.80,137.83 L183.20,137.83 L183.60,137.84 L184.00,137.84 L184.40,137.84 L184.80,137.84 L185.20,137.84 L185.60,137.84 L186.00,137.84 L186.40,137.84 L186.80,137.84 L187.20,137.84 L187.60,137.84 L188.00,137.84 L188.40,137.84 L188.80,137.84 L189.20,137.84 L189.60,137.85 L190.00,137.85 L190.40,137.85 L190.80,137.85 L191.20,137.85 L191.60,137.85 L192.00,137.85 L192.40,137.85 L192.80,137.85 L193.20,137.85 L193.60,137.85 L194.00,137.85 L194.40,137.85 L194.80,137.85 L195.20,137.85 L195.60,137.85 L196.00,137.85 L196.40,137.85 L196.80,137.85 L197.20,137.85 L197.60,137.85 L198.00,137.85 L198.40,137.85 L198.80,137.85 L199.20,137.85 L199.60,137.85 L200.00,137.85 L200.40,137.85 L200.80,137.85 L201.20,137.85 L201.60,137.85 L202.00,137.85 L202.40,137.85 L202.80,137.85 L203.20,137.85 L203.60,137.85 L204.00,137.85 L204.40,137.85 L204.80,137.85 L205.20,137.85 L205.60,137.85 L206.00,137.85 L206.40,137.85 L206.80,137.85 L207.20,137.85 L207.60,137.85 L208.00,137.85 L208.40,137.85 L208.80,137.85 L209.20,137.85 L209.60,137.85 L210.00,137.85 L210.40,137.85 L210.80,137.85 L211.20,137.85 L211.60,137.85 L212.00,137.85 L212.40,137.85 L212.80,137.85 L213.20,137.85 L213.60,137.85 L214.00,137.85 L214.40,137.85 L214.80,137.85 L215.20,137.85 L215.60,137.85 L216.00,137.85 L216.40,137.85 L216.80,137.85 L217.20,137.85 L217.60,137.85 L218.00,137.85 L218.40,137.85 L218.80,137.85 L219.20,137.85 L219.60,137.85 L220.00,137.85 L220.40,137.85 L220.80,137.85 L221.20,137.85 L221.60,137.85 L222.00,137.85 L222.40,137.85 L222.80,137.85" stroke="#8b0000" stroke-width="1.85" fill="none" stroke-linejoin="round"/></g>
<clipPath id="c3a"><rect x="234.60" y="22.20" width="99.20" height="115.65"/></clipPath>
<g clip-path="url(#c3a)">
<path d="M245.60,137.85 L246.00,137.85 L246.40,137.85 L246.80,137.85 L247.20,137.85 L247.60,137.85 L248.00,137.85 L248.40,137.85 L248.80,137.85 L249.20,137.85 L249.60,137.85 L250.00,137.85 L250.40,137.85 L250.80,137.85 L251.20,137.85 L251.60,137.85 L252.00,137.85 L252.40,137.85 L252.80,137.85 L253.20,137.85 L253.60,137.85 L254.00,137.85 L254.40,137.85 L254.80,137.84 L255.20,137.84 L255.60,137.83 L256.00,137.82 L256.40,137.81 L256.80,137.79 L257.20,137.76 L257.60,137.72 L258.00,137.66 L258.40,137.60 L258.80,137.51 L259.20,137.40 L259.60,137.26 L260.00,137.10 L260.40,136.91 L260.80,136.67 L261.20,136.40 L261.60,136.09 L262.00,135.74 L262.40,135.34 L262.80,134.89 L263.20,134.39 L263.60,133.85 L264.00,133.25 L264.40,132.61 L264.80,131.92 L265.20,131.18 L265.60,130.40 L266.00,129.58 L266.40,128.72 L266.80,127.83 L267.20,126.91 L267.60,125.97 L268.00,125.00 L268.40,124.02 L268.80,123.02 L269.20,122.02 L269.60,121.03 L270.00,120.03 L270.40,119.04 L270.80,118.07 L271.20,117.11 L271.60,116.18 L272.00,115.28 L272.40,114.40 L272.80,113.56 L273.20,112.75 L273.60,111.99 L274.00,111.26 L274.40,110.58 L274.80,109.95 L275.20,109.36 L275.60,108.83 L276.00,108.34 L276.40,107.90 L276.80,107.52 L277.20,107.18 L277.60,106.90 L278.00,106.66 L278.40,106.48 L278.80,106.34 L279.20,106.25 L279.60,106.21 L280.00,106.21 L280.40,106.25 L280.80,106.33 L281.20,106.46 L281.60,106.62 L282.00,106.82 L282.40,107.05 L282.80,107.31 L283.20,107.61 L283.60,107.93 L284.00,108.28 L284.40,108.65 L284.80,109.05 L285.20,109.46 L285.60,109.90 L286.00,110.35 L286.40,110.82 L286.80,111.30 L287.20,111.79 L287.60,112.29 L288.00,112.80 L288.40,113.32 L288.80,113.84 L289.20,114.37 L289.60,114.90 L290.00,115.44 L290.40,115.97 L290.80,116.51 L291.20,117.04 L291.60,117.57 L292.00,118.10 L292.40,118.63 L292.80,119.15 L293.20,119.66 L293.60,120.17 L294.00,120.68 L294.40,121.17 L294.80,121.66 L295.20,122.14 L295.60,122.62 L296.00,123.08 L296.40,123.54 L296.80,123.99 L297.20,124.43 L297.60,124.86 L298.00,125.28 L298.40,125.69 L298.80,126.09 L299.20,126.48 L299.60,126.87 L300.00,127.24 L300.40,127.60 L300.80,127.96 L301.20,128.30 L301.60,128.64 L302.00,128.96 L302.40,129.28 L302.80,129.58 L303.20,129.88 L303.60,130.17 L304.00,130.45 L304.40,130.72 L304.80,130.98 L305.20,131.24 L305.60,131.49 L306.00,131.72 L306.40,131.96 L306.80,132.18 L307.20,132.39 L307.60,132.60 L308.00,132.80 L308.40,133.00 L308.80,133.19 L309.20,133.37 L309.60,133.54 L310.00,133.71 L310.40,133.87 L310.80,134.03 L311.20,134.18 L311.60,134.33 L312.00,134.47 L312.40,134.60 L312.80,134.73 L313.20,134.86 L313.60,134.98 L314.00,135.09 L314.40,135.21 L314.80,135.31 L315.20,135.42 L315.60,135.52 L316.00,135.61 L316.40,135.70 L316.80,135.79 L317.20,135.88 L317.60,135.96 L318.00,136.03 L318.40,136.11 L318.80,136.18 L319.20,136.25 L319.60,136.32 L320.00,136.38 L320.40,136.44 L320.80,136.50 L321.20,136.56 L321.60,136.61 L322.00,136.66 L322.40,136.71 L322.80,136.76 L323.20,136.81 L323.60,136.85 L324.00,136.89 L324.40,136.93 L324.80,136.97 L325.20,137.01 L325.60,137.05 L326.00,137.08 L326.40,137.11 L326.80,137.14 L327.20,137.17 L327.60,137.20 L328.00,137.23 L328.40,137.26 L328.80,137.28 L329.20,137.31 L329.60,137.33 L330.00,137.35 L330.40,137.37 L330.80,137.39" stroke="#000" stroke-width="1.95" fill="none" stroke-linejoin="round"/>
<path d="M235.60,137.85 L236.00,137.85 L236.40,137.85 L236.80,137.85 L237.20,137.85 L237.60,137.85 L238.00,137.85 L238.40,137.85 L238.80,137.85 L239.20,137.85 L239.60,137.85 L240.00,137.85 L240.40,137.85 L240.80,137.85 L241.20,137.85 L241.60,137.85 L242.00,137.85 L242.40,137.85 L242.80,137.85 L243.20,137.85 L243.60,137.85 L244.00,137.84 L244.40,137.80 L244.80,137.67 L245.20,137.28 L245.60,136.27 L246.00,134.04 L246.40,129.84 L246.80,123.11 L247.20,113.93 L247.60,103.32 L248.00,92.98 L248.40,84.57 L248.80,79.05 L249.20,76.40 L249.60,75.94 L250.00,76.81 L250.40,78.34 L250.80,80.10 L251.20,81.90 L251.60,83.68 L252.00,85.41 L252.40,87.09 L252.80,88.72 L253.20,90.29 L253.60,91.81 L254.00,93.28 L254.40,94.71 L254.80,96.09 L255.20,97.43 L255.60,98.72 L256.00,99.97 L256.40,101.18 L256.80,102.36 L257.20,103.49 L257.60,104.59 L258.00,105.66 L258.40,106.69 L258.80,107.68 L259.20,108.65 L259.60,109.58 L260.00,110.49 L260.40,111.36 L260.80,112.21 L261.20,113.03 L261.60,113.82 L262.00,114.59 L262.40,115.34 L262.80,116.06 L263.20,116.75 L263.60,117.43 L264.00,118.08 L264.40,118.72 L264.80,119.33 L265.20,119.92 L265.60,120.49 L266.00,121.05 L266.40,121.59 L266.80,122.11 L267.20,122.61 L267.60,123.10 L268.00,123.57 L268.40,124.03 L268.80,124.47 L269.20,124.90 L269.60,125.31 L270.00,125.71 L270.40,126.10 L270.80,126.48 L271.20,126.84 L271.60,127.19 L272.00,127.54 L272.40,127.87 L272.80,128.18 L273.20,128.49 L273.60,128.79 L274.00,129.08 L274.40,129.36 L274.80,129.64 L275.20,129.90 L275.60,130.15 L276.00,130.40 L276.40,130.64 L276.80,130.87 L277.20,131.09 L277.60,131.31 L278.00,131.52 L278.40,131.72 L278.80,131.92 L279.20,132.11 L279.60,132.29 L280.00,132.47 L280.40,132.64 L280.80,132.81 L281.20,132.97 L281.60,133.12 L282.00,133.28 L282.40,133.42 L282.80,133.56 L283.20,133.70 L283.60,133.83 L284.00,133.96 L284.40,134.09 L284.80,134.21 L285.20,134.32 L285.60,134.44 L286.00,134.55 L286.40,134.65 L286.80,134.75 L287.20,134.85 L287.60,134.95 L288.00,135.04 L288.40,135.13 L288.80,135.22 L289.20,135.30 L289.60,135.38 L290.00,135.46 L290.40,135.54 L290.80,135.61 L291.20,135.68 L291.60,135.75 L292.00,135.82 L292.40,135.89 L292.80,135.95 L293.20,136.01 L293.60,136.07 L294.00,136.13 L294.40,136.18 L294.80,136.23 L295.20,136.29 L295.60,136.34 L296.00,136.38 L296.40,136.43 L296.80,136.48 L297.20,136.52 L297.60,136.56 L298.00,136.60 L298.40,136.64 L298.80,136.68 L299.20,136.72 L299.60,136.76 L300.00,136.79 L300.40,136.83 L300.80,136.86 L301.20,136.89 L301.60,136.92 L302.00,136.95 L302.40,136.98 L302.80,137.01 L303.20,137.03 L303.60,137.06 L304.00,137.09 L304.40,137.11 L304.80,137.13 L305.20,137.16 L305.60,137.18 L306.00,137.20 L306.40,137.22 L306.80,137.24 L307.20,137.26 L307.60,137.28 L308.00,137.30 L308.40,137.32 L308.80,137.33 L309.20,137.35 L309.60,137.36 L310.00,137.38 L310.40,137.40 L310.80,137.41 L311.20,137.42 L311.60,137.44 L312.00,137.45 L312.40,137.46 L312.80,137.48 L313.20,137.49 L313.60,137.50 L314.00,137.51 L314.40,137.52 L314.80,137.53 L315.20,137.54 L315.60,137.55 L316.00,137.56 L316.40,137.57 L316.80,137.58 L317.20,137.59 L317.60,137.60 L318.00,137.60 L318.40,137.61 L318.80,137.62 L319.20,137.63 L319.60,137.63 L320.00,137.64 L320.40,137.65 L320.80,137.65 L321.20,137.66 L321.60,137.67 L322.00,137.67 L322.40,137.68 L322.80,137.68 L323.20,137.69 L323.60,137.69 L324.00,137.70 L324.40,137.70 L324.80,137.71 L325.20,137.71 L325.60,137.72 L326.00,137.72 L326.40,137.73 L326.80,137.73 L327.20,137.73 L327.60,137.74 L328.00,137.74 L328.40,137.74 L328.80,137.75 L329.20,137.75 L329.60,137.75 L330.00,137.76 L330.40,137.76 L330.80,137.76 L331.20,137.77 L331.60,137.77 L332.00,137.77 L332.40,137.77 L332.80,137.78" stroke="#8b0000" stroke-width="1.85" fill="none" stroke-linejoin="round"/></g>
<clipPath id="c4a"><rect x="14.60" y="145.80" width="99.40" height="115.10"/></clipPath>
<g clip-path="url(#c4a)">
<path d="M22.40,260.90 L22.80,260.90 L23.20,260.90 L23.60,260.90 L24.00,260.90 L24.40,260.90 L24.80,260.90 L25.20,260.90 L25.60,260.90 L26.00,260.90 L26.40,260.90 L26.80,260.90 L27.20,260.90 L27.60,260.90 L28.00,260.90 L28.40,260.90 L28.80,260.90 L29.20,260.90 L29.60,260.90 L30.00,260.90 L30.40,260.90 L30.80,260.90 L31.20,260.90 L31.60,260.90 L32.00,260.90 L32.40,260.90 L32.80,260.90 L33.20,260.90 L33.60,260.90 L34.00,260.90 L34.40,260.90 L34.80,260.89 L35.20,260.89 L35.60,260.88 L36.00,260.85 L36.40,260.82 L36.80,260.77 L37.20,260.70 L37.60,260.59 L38.00,260.45 L38.40,260.26 L38.80,260.00 L39.20,259.68 L39.60,259.28 L40.00,258.80 L40.40,258.22 L40.80,257.54 L41.20,256.76 L41.60,255.87 L42.00,254.88 L42.40,253.77 L42.80,252.57 L43.20,251.27 L43.60,249.89 L44.00,248.43 L44.40,246.90 L44.80,245.32 L45.20,243.69 L45.60,242.05 L46.00,240.38 L46.40,238.72 L46.80,237.08 L47.20,235.46 L47.60,233.89 L48.00,232.37 L48.40,230.92 L48.80,229.54 L49.20,228.24 L49.60,227.03 L50.00,225.93 L50.40,224.92 L50.80,224.02 L51.20,223.22 L51.60,222.54 L52.00,221.97 L52.40,221.50 L52.80,221.15 L53.20,220.90 L53.60,220.75 L54.00,220.70 L54.40,220.75 L54.80,220.88 L55.20,221.11 L55.60,221.41 L56.00,221.79 L56.40,222.24 L56.80,222.75 L57.20,223.32 L57.60,223.95 L58.00,224.62 L58.40,225.33 L58.80,226.08 L59.20,226.87 L59.60,227.68 L60.00,228.51 L60.40,229.36 L60.80,230.23 L61.20,231.11 L61.60,231.99 L62.00,232.88 L62.40,233.77 L62.80,234.65 L63.20,235.53 L63.60,236.41 L64.00,237.27 L64.40,238.13 L64.80,238.97 L65.20,239.79 L65.60,240.60 L66.00,241.39 L66.40,242.17 L66.80,242.92 L67.20,243.66 L67.60,244.38 L68.00,245.07 L68.40,245.75 L68.80,246.41 L69.20,247.04 L69.60,247.65 L70.00,248.25 L70.40,248.82 L70.80,249.37 L71.20,249.90 L71.60,250.41 L72.00,250.90 L72.40,251.38 L72.80,251.83 L73.20,252.26 L73.60,252.68 L74.00,253.08 L74.40,253.46 L74.80,253.83 L75.20,254.18 L75.60,254.52 L76.00,254.84 L76.40,255.14 L76.80,255.43 L77.20,255.71 L77.60,255.98 L78.00,256.23 L78.40,256.47 L78.80,256.70 L79.20,256.92 L79.60,257.12 L80.00,257.32 L80.40,257.51 L80.80,257.69 L81.20,257.86 L81.60,258.02 L82.00,258.17 L82.40,258.32 L82.80,258.46 L83.20,258.59 L83.60,258.71 L84.00,258.83 L84.40,258.94 L84.80,259.05 L85.20,259.15 L85.60,259.24 L86.00,259.33 L86.40,259.42 L86.80,259.50 L87.20,259.57 L87.60,259.65 L88.00,259.72 L88.40,259.78 L88.80,259.84 L89.20,259.90 L89.60,259.96 L90.00,260.01 L90.40,260.06 L90.80,260.10 L91.20,260.15 L91.60,260.19 L92.00,260.23 L92.40,260.27 L92.80,260.30 L93.20,260.33 L93.60,260.37 L94.00,260.39 L94.40,260.42 L94.80,260.45" stroke="#000" stroke-width="1.95" fill="none" stroke-linejoin="round"/>
<path d="M15.60,260.90 L16.00,260.90 L16.40,260.90 L16.80,260.90 L17.20,260.90 L17.60,260.90 L18.00,260.90 L18.40,260.90 L18.80,260.90 L19.20,260.90 L19.60,260.90 L20.00,260.90 L20.40,260.90 L20.80,260.88 L21.20,260.84 L21.60,260.69 L22.00,260.27 L22.40,259.24 L22.80,257.01 L23.20,252.81 L23.60,245.85 L24.00,235.79 L24.40,223.11 L24.80,209.24 L25.20,196.16 L25.60,185.72 L26.00,178.97 L26.40,175.93 L26.80,175.89 L27.20,177.80 L27.60,180.77 L28.00,184.17 L28.40,187.65 L28.80,191.05 L29.20,194.33 L29.60,197.46 L30.00,200.44 L30.40,203.29 L30.80,206.00 L31.20,208.58 L31.60,211.04 L32.00,213.39 L32.40,215.62 L32.80,217.75 L33.20,219.78 L33.60,221.72 L34.00,223.56 L34.40,225.32 L34.80,226.99 L35.20,228.59 L35.60,230.11 L36.00,231.56 L36.40,232.94 L36.80,234.25 L37.20,235.51 L37.60,236.70 L38.00,237.84 L38.40,238.93 L38.80,239.96 L39.20,240.94 L39.60,241.88 L40.00,242.78 L40.40,243.63 L40.80,244.44 L41.20,245.22 L41.60,245.96 L42.00,246.66 L42.40,247.33 L42.80,247.97 L43.20,248.58 L43.60,249.16 L44.00,249.71 L44.40,250.23 L44.80,250.74 L45.20,251.21 L45.60,251.67 L46.00,252.10 L46.40,252.52 L46.80,252.91 L47.20,253.29 L47.60,253.65 L48.00,253.99 L48.40,254.31 L48.80,254.62 L49.20,254.92 L49.60,255.20 L50.00,255.47 L50.40,255.72 L50.80,255.97 L51.20,256.20 L51.60,256.42 L52.00,256.63 L52.40,256.83 L52.80,257.02 L53.20,257.21 L53.60,257.38 L54.00,257.55 L54.40,257.70 L54.80,257.85 L55.20,258.00 L55.60,258.13 L56.00,258.26 L56.40,258.39 L56.80,258.51 L57.20,258.62 L57.60,258.73 L58.00,258.83 L58.40,258.93 L58.80,259.02 L59.20,259.11 L59.60,259.19 L60.00,259.27 L60.40,259.35 L60.80,259.42 L61.20,259.49 L61.60,259.56 L62.00,259.62 L62.40,259.68 L62.80,259.74 L63.20,259.79 L63.60,259.84 L64.00,259.89 L64.40,259.94 L64.80,259.99 L65.20,260.03 L65.60,260.07 L66.00,260.11 L66.40,260.15 L66.80,260.18 L67.20,260.22 L67.60,260.25 L68.00,260.28 L68.40,260.31 L68.80,260.34 L69.20,260.36 L69.60,260.39 L70.00,260.41 L70.40,260.43 L70.80,260.46 L71.20,260.48 L71.60,260.50 L72.00,260.52 L72.40,260.53 L72.80,260.55 L73.20,260.57 L73.60,260.58 L74.00,260.60 L74.40,260.61 L74.80,260.63 L75.20,260.64 L75.60,260.65 L76.00,260.66 L76.40,260.67 L76.80,260.68 L77.20,260.70 L77.60,260.70 L78.00,260.71 L78.40,260.72 L78.80,260.73 L79.20,260.74 L79.60,260.75 L80.00,260.75 L80.40,260.76 L80.80,260.77 L81.20,260.77 L81.60,260.78 L82.00,260.79 L82.40,260.79 L82.80,260.80 L83.20,260.80 L83.60,260.81 L84.00,260.81 L84.40,260.81 L84.80,260.82 L85.20,260.82 L85.60,260.83 L86.00,260.83 L86.40,260.83 L86.80,260.84 L87.20,260.84 L87.60,260.84 L88.00,260.84 L88.40,260.85 L88.80,260.85 L89.20,260.85 L89.60,260.85 L90.00,260.86 L90.40,260.86 L90.80,260.86 L91.20,260.86 L91.60,260.86 L92.00,260.87 L92.40,260.87 L92.80,260.87 L93.20,260.87 L93.60,260.87 L94.00,260.87 L94.40,260.87 L94.80,260.88 L95.20,260.88 L95.60,260.88 L96.00,260.88 L96.40,260.88 L96.80,260.88 L97.20,260.88 L97.60,260.88 L98.00,260.88 L98.40,260.88 L98.80,260.88 L99.20,260.89 L99.60,260.89 L100.00,260.89 L100.40,260.89 L100.80,260.89 L101.20,260.89 L101.60,260.89 L102.00,260.89 L102.40,260.89 L102.80,260.89 L103.20,260.89 L103.60,260.89 L104.00,260.89 L104.40,260.89 L104.80,260.89 L105.20,260.89 L105.60,260.89 L106.00,260.89 L106.40,260.89 L106.80,260.89 L107.20,260.89 L107.60,260.89 L108.00,260.89 L108.40,260.90 L108.80,260.90 L109.20,260.90 L109.60,260.90 L110.00,260.90 L110.40,260.90 L110.80,260.90 L111.20,260.90 L111.60,260.90 L112.00,260.90 L112.40,260.90 L112.80,260.90" stroke="#8b0000" stroke-width="1.85" fill="none" stroke-linejoin="round"/></g>
<clipPath id="c5a"><rect x="124.60" y="145.80" width="99.20" height="115.10"/></clipPath>
<g clip-path="url(#c5a)">
<path d="M140.40,260.90 L140.80,260.90 L141.20,260.90 L141.60,260.90 L142.00,260.90 L142.40,260.90 L142.80,260.90 L143.20,260.89 L143.60,260.89 L144.00,260.89 L144.40,260.88 L144.80,260.87 L145.20,260.87 L145.60,260.85 L146.00,260.84 L146.40,260.82 L146.80,260.79 L147.20,260.75 L147.60,260.71 L148.00,260.65 L148.40,260.58 L148.80,260.48 L149.20,260.37 L149.60,260.23 L150.00,260.06 L150.40,259.86 L150.80,259.61 L151.20,259.31 L151.60,258.97 L152.00,258.56 L152.40,258.08 L152.80,257.53 L153.20,256.90 L153.60,256.19 L154.00,255.39 L154.40,254.49 L154.80,253.49 L155.20,252.40 L155.60,251.22 L156.00,249.93 L156.40,248.56 L156.80,247.10 L157.20,245.57 L157.60,243.98 L158.00,242.33 L158.40,240.65 L158.80,238.95 L159.20,237.24 L159.60,235.55 L160.00,233.89 L160.40,232.29 L160.80,230.75 L161.20,229.30 L161.60,227.95 L162.00,226.72 L162.40,225.62 L162.80,224.66 L163.20,223.84 L163.60,223.17 L164.00,222.65 L164.40,222.29 L164.80,222.07 L165.20,222.00 L165.60,222.07 L166.00,222.26 L166.40,222.58 L166.80,223.00 L167.20,223.53 L167.60,224.14 L168.00,224.82 L168.40,225.57 L168.80,226.37 L169.20,227.21 L169.60,228.09 L170.00,228.99 L170.40,229.90 L170.80,230.82 L171.20,231.74 L171.60,232.66 L172.00,233.57 L172.40,234.46 L172.80,235.35 L173.20,236.21 L173.60,237.05 L174.00,237.87 L174.40,238.67 L174.80,239.45 L175.20,240.20 L175.60,240.93 L176.00,241.63 L176.40,242.31 L176.80,242.97 L177.20,243.61 L177.60,244.22 L178.00,244.81 L178.40,245.38 L178.80,245.94 L179.20,246.47 L179.60,246.98 L180.00,247.48 L180.40,247.96 L180.80,248.42 L181.20,248.86 L181.60,249.29 L182.00,249.70 L182.40,250.10 L182.80,250.49 L183.20,250.86 L183.60,251.22 L184.00,251.56 L184.40,251.89 L184.80,252.21 L185.20,252.52 L185.60,252.82 L186.00,253.11 L186.40,253.39 L186.80,253.66 L187.20,253.91 L187.60,254.16 L188.00,254.40 L188.40,254.63 L188.80,254.86 L189.20,255.07 L189.60,255.28 L190.00,255.48 L190.40,255.67 L190.80,255.86 L191.20,256.04 L191.60,256.21 L192.00,256.38 L192.40,256.54 L192.80,256.70 L193.20,256.85 L193.60,256.99 L194.00,257.13 L194.40,257.26 L194.80,257.39 L195.20,257.52 L195.60,257.64 L196.00,257.75 L196.40,257.87 L196.80,257.97 L197.20,258.08 L197.60,258.18 L198.00,258.28 L198.40,258.37 L198.80,258.46 L199.20,258.55 L199.60,258.63 L200.00,258.71 L200.40,258.79 L200.80,258.86 L201.20,258.94 L201.60,259.01 L202.00,259.07 L202.40,259.14 L202.80,259.20 L203.20,259.26 L203.60,259.32 L204.00,259.38 L204.40,259.43 L204.80,259.48 L205.20,259.53 L205.60,259.58 L206.00,259.63 L206.40,259.67 L206.80,259.72 L207.20,259.76 L207.60,259.80 L208.00,259.84 L208.40,259.88 L208.80,259.91 L209.20,259.95 L209.60,259.98 L210.00,260.02 L210.40,260.05 L210.80,260.08 L211.20,260.11 L211.60,260.14 L212.00,260.16 L212.40,260.19 L212.80,260.21 L213.20,260.24 L213.60,260.26 L214.00,260.29 L214.40,260.31 L214.80,260.33 L215.20,260.35 L215.60,260.37 L216.00,260.39 L216.40,260.41 L216.80,260.42 L217.20,260.44" stroke="#000" stroke-width="1.95" fill="none" stroke-linejoin="round"/>
<path d="M125.60,260.90 L126.00,260.90 L126.40,260.90 L126.80,260.90 L127.20,260.90 L127.60,260.90 L128.00,260.90 L128.40,260.90 L128.80,260.90 L129.20,260.90 L129.60,260.90 L130.00,260.90 L130.40,260.90 L130.80,260.90 L131.20,260.90 L131.60,260.90 L132.00,260.90 L132.40,260.90 L132.80,260.90 L133.20,260.90 L133.60,260.90 L134.00,260.90 L134.40,260.90 L134.80,260.90 L135.20,260.90 L135.60,260.90 L136.00,260.90 L136.40,260.90 L136.80,260.90 L137.20,260.90 L137.60,260.90 L138.00,260.90 L138.40,260.90 L138.80,260.89 L139.20,260.87 L139.60,260.80 L140.00,260.60 L140.40,260.07 L140.80,258.87 L141.20,256.48 L141.60,252.31 L142.00,245.93 L142.40,237.42 L142.80,227.52 L143.20,217.52 L143.60,208.83 L144.00,202.49 L144.40,198.80 L144.80,197.45 L145.20,197.78 L145.60,199.11 L146.00,200.94 L146.40,202.94 L146.80,204.96 L147.20,206.95 L147.60,208.87 L148.00,210.73 L148.40,212.52 L148.80,214.25 L149.20,215.91 L149.60,217.52 L150.00,219.07 L150.40,220.56 L150.80,222.00 L151.20,223.39 L151.60,224.73 L152.00,226.02 L152.40,227.27 L152.80,228.47 L153.20,229.63 L153.60,230.75 L154.00,231.82 L154.40,232.86 L154.80,233.86 L155.20,234.83 L155.60,235.76 L156.00,236.66 L156.40,237.52 L156.80,238.36 L157.20,239.16 L157.60,239.94 L158.00,240.69 L158.40,241.41 L158.80,242.10 L159.20,242.78 L159.60,243.42 L160.00,244.05 L160.40,244.65 L160.80,245.23 L161.20,245.79 L161.60,246.33 L162.00,246.85 L162.40,247.35 L162.80,247.83 L163.20,248.30 L163.60,248.75 L164.00,249.18 L164.40,249.60 L164.80,250.01 L165.20,250.40 L165.60,250.77 L166.00,251.13 L166.40,251.48 L166.80,251.82 L167.20,252.14 L167.60,252.45 L168.00,252.76 L168.40,253.05 L168.80,253.33 L169.20,253.60 L169.60,253.86 L170.00,254.11 L170.40,254.35 L170.80,254.59 L171.20,254.81 L171.60,255.03 L172.00,255.24 L172.40,255.44 L172.80,255.64 L173.20,255.82 L173.60,256.01 L174.00,256.18 L174.40,256.35 L174.80,256.51 L175.20,256.67 L175.60,256.82 L176.00,256.96 L176.40,257.11 L176.80,257.24 L177.20,257.37 L177.60,257.50 L178.00,257.62 L178.40,257.74 L178.80,257.85 L179.20,257.96 L179.60,258.06 L180.00,258.16 L180.40,258.26 L180.80,258.36 L181.20,258.45 L181.60,258.53 L182.00,258.62 L182.40,258.70 L182.80,258.78 L183.20,258.85 L183.60,258.93 L184.00,259.00 L184.40,259.07 L184.80,259.13 L185.20,259.19 L185.60,259.26 L186.00,259.31 L186.40,259.37 L186.80,259.43 L187.20,259.48 L187.60,259.53 L188.00,259.58 L188.40,259.63 L188.80,259.67 L189.20,259.71 L189.60,259.76 L190.00,259.80 L190.40,259.84 L190.80,259.88 L191.20,259.91 L191.60,259.95 L192.00,259.98 L192.40,260.01 L192.80,260.05 L193.20,260.08 L193.60,260.11 L194.00,260.13 L194.40,260.16 L194.80,260.19 L195.20,260.21 L195.60,260.24 L196.00,260.26 L196.40,260.28 L196.80,260.31 L197.20,260.33 L197.60,260.35 L198.00,260.37 L198.40,260.39 L198.80,260.40 L199.20,260.42 L199.60,260.44 L200.00,260.46 L200.40,260.47 L200.80,260.49 L201.20,260.50 L201.60,260.52 L202.00,260.53 L202.40,260.54 L202.80,260.56 L203.20,260.57 L203.60,260.58 L204.00,260.59 L204.40,260.60 L204.80,260.61 L205.20,260.62 L205.60,260.63 L206.00,260.64 L206.40,260.65 L206.80,260.66 L207.20,260.67 L207.60,260.68 L208.00,260.69 L208.40,260.69 L208.80,260.70 L209.20,260.71 L209.60,260.71 L210.00,260.72 L210.40,260.73 L210.80,260.73 L211.20,260.74 L211.60,260.75 L212.00,260.75 L212.40,260.76 L212.80,260.76 L213.20,260.77 L213.60,260.77 L214.00,260.78 L214.40,260.78 L214.80,260.78 L215.20,260.79 L215.60,260.79 L216.00,260.80 L216.40,260.80 L216.80,260.80 L217.20,260.81 L217.60,260.81 L218.00,260.81 L218.40,260.82 L218.80,260.82 L219.20,260.82 L219.60,260.83 L220.00,260.83 L220.40,260.83 L220.80,260.83 L221.20,260.84 L221.60,260.84 L222.00,260.84 L222.40,260.84 L222.80,260.84" stroke="#8b0000" stroke-width="1.85" fill="none" stroke-linejoin="round"/></g>
<clipPath id="c6a"><rect x="234.60" y="145.80" width="99.20" height="115.10"/></clipPath>
<g clip-path="url(#c6a)">
<path d="M242.80,260.90 L243.20,260.90 L243.60,260.90 L244.00,260.90 L244.40,260.90 L244.80,260.90 L245.20,260.90 L245.60,260.90 L246.00,260.90 L246.40,260.90 L246.80,260.90 L247.20,260.90 L247.60,260.90 L248.00,260.90 L248.40,260.90 L248.80,260.90 L249.20,260.90 L249.60,260.90 L250.00,260.90 L250.40,260.90 L250.80,260.90 L251.20,260.90 L251.60,260.90 L252.00,260.89 L252.40,260.89 L252.80,260.88 L253.20,260.87 L253.60,260.85 L254.00,260.82 L254.40,260.79 L254.80,260.73 L255.20,260.66 L255.60,260.56 L256.00,260.43 L256.40,260.26 L256.80,260.06 L257.20,259.80 L257.60,259.49 L258.00,259.11 L258.40,258.67 L258.80,258.15 L259.20,257.56 L259.60,256.88 L260.00,256.12 L260.40,255.28 L260.80,254.35 L261.20,253.34 L261.60,252.25 L262.00,251.08 L262.40,249.83 L262.80,248.53 L263.20,247.17 L263.60,245.76 L264.00,244.31 L264.40,242.84 L264.80,241.35 L265.20,239.85 L265.60,238.36 L266.00,236.88 L266.40,235.43 L266.80,234.02 L267.20,232.65 L267.60,231.34 L268.00,230.09 L268.40,228.91 L268.80,227.81 L269.20,226.79 L269.60,225.86 L270.00,225.02 L270.40,224.28 L270.80,223.63 L271.20,223.09 L271.60,222.64 L272.00,222.29 L272.40,222.03 L272.80,221.87 L273.20,221.80 L273.60,221.82 L274.00,221.93 L274.40,222.12 L274.80,222.39 L275.20,222.73 L275.60,223.14 L276.00,223.62 L276.40,224.15 L276.80,224.74 L277.20,225.38 L277.60,226.06 L278.00,226.78 L278.40,227.53 L278.80,228.32 L279.20,229.13 L279.60,229.96 L280.00,230.81 L280.40,231.67 L280.80,232.55 L281.20,233.42 L281.60,234.31 L282.00,235.19 L282.40,236.07 L282.80,236.94 L283.20,237.80 L283.60,238.66 L284.00,239.50 L284.40,240.33 L284.80,241.15 L285.20,241.95 L285.60,242.73 L286.00,243.49 L286.40,244.24 L286.80,244.96 L287.20,245.66 L287.60,246.35 L288.00,247.01 L288.40,247.65 L288.80,248.27 L289.20,248.86 L289.60,249.44 L290.00,249.99 L290.40,250.53 L290.80,251.04 L291.20,251.53 L291.60,252.01 L292.00,252.46 L292.40,252.89 L292.80,253.31 L293.20,253.71 L293.60,254.08 L294.00,254.45 L294.40,254.79 L294.80,255.12 L295.20,255.43 L295.60,255.73 L296.00,256.02 L296.40,256.29 L296.80,256.54 L297.20,256.79 L297.60,257.02 L298.00,257.24 L298.40,257.44 L298.80,257.64 L299.20,257.83 L299.60,258.01 L300.00,258.17 L300.40,258.33 L300.80,258.48 L301.20,258.62 L301.60,258.76 L302.00,258.88 L302.40,259.00 L302.80,259.12 L303.20,259.22 L303.60,259.32 L304.00,259.42 L304.40,259.51 L304.80,259.59 L305.20,259.67 L305.60,259.74 L306.00,259.81 L306.40,259.88 L306.80,259.94 L307.20,260.00 L307.60,260.06 L308.00,260.11 L308.40,260.16 L308.80,260.20 L309.20,260.25 L309.60,260.29 L310.00,260.33 L310.40,260.36 L310.80,260.39 L311.20,260.43" stroke="#000" stroke-width="1.95" fill="none" stroke-linejoin="round"/>
<path d="M235.60,260.90 L236.00,260.90 L236.40,260.90 L236.80,260.90 L237.20,260.90 L237.60,260.90 L238.00,260.90 L238.40,260.90 L238.80,260.90 L239.20,260.90 L239.60,260.90 L240.00,260.90 L240.40,260.90 L240.80,260.90 L241.20,260.88 L241.60,260.84 L242.00,260.70 L242.40,260.30 L242.80,259.32 L243.20,257.20 L243.60,253.16 L244.00,246.46 L244.40,236.72 L244.80,224.41 L245.20,210.87 L245.60,198.06 L246.00,187.80 L246.40,181.14 L246.80,178.13 L247.20,178.08 L247.60,179.98 L248.00,182.93 L248.40,186.31 L248.80,189.77 L249.20,193.16 L249.60,196.41 L250.00,199.52 L250.40,202.47 L250.80,205.29 L251.20,207.97 L251.60,210.52 L252.00,212.95 L252.40,215.26 L252.80,217.46 L253.20,219.55 L253.60,221.54 L254.00,223.44 L254.40,225.24 L254.80,226.96 L255.20,228.60 L255.60,230.15 L256.00,231.64 L256.40,233.05 L256.80,234.39 L257.20,235.66 L257.60,236.88 L258.00,238.04 L258.40,239.14 L258.80,240.19 L259.20,241.19 L259.60,242.14 L260.00,243.04 L260.40,243.90 L260.80,244.72 L261.20,245.50 L261.60,246.24 L262.00,246.95 L262.40,247.62 L262.80,248.26 L263.20,248.87 L263.60,249.45 L264.00,250.00 L264.40,250.53 L264.80,251.03 L265.20,251.50 L265.60,251.95 L266.00,252.39 L266.40,252.80 L266.80,253.19 L267.20,253.56 L267.60,253.91 L268.00,254.25 L268.40,254.57 L268.80,254.87 L269.20,255.16 L269.60,255.44 L270.00,255.70 L270.40,255.95 L270.80,256.19 L271.20,256.42 L271.60,256.63 L272.00,256.84 L272.40,257.04 L272.80,257.22 L273.20,257.40 L273.60,257.57 L274.00,257.73 L274.40,257.88 L274.80,258.03 L275.20,258.17 L275.60,258.30 L276.00,258.42 L276.40,258.54 L276.80,258.66 L277.20,258.76 L277.60,258.87 L278.00,258.96 L278.40,259.06 L278.80,259.15 L279.20,259.23 L279.60,259.31 L280.00,259.39 L280.40,259.46 L280.80,259.53 L281.20,259.60 L281.60,259.66 L282.00,259.72 L282.40,259.78 L282.80,259.83 L283.20,259.88 L283.60,259.93 L284.00,259.98 L284.40,260.02 L284.80,260.06 L285.20,260.10 L285.60,260.14 L286.00,260.18 L286.40,260.21 L286.80,260.25 L287.20,260.28 L287.60,260.31 L288.00,260.34 L288.40,260.36 L288.80,260.39 L289.20,260.41 L289.60,260.44 L290.00,260.46 L290.40,260.48 L290.80,260.50 L291.20,260.52 L291.60,260.54 L292.00,260.56 L292.40,260.57 L292.80,260.59 L293.20,260.60 L293.60,260.62 L294.00,260.63 L294.40,260.64 L294.80,260.66 L295.20,260.67 L295.60,260.68 L296.00,260.69 L296.40,260.70 L296.80,260.71 L297.20,260.72 L297.60,260.73 L298.00,260.74 L298.40,260.74 L298.80,260.75 L299.20,260.76 L299.60,260.77 L300.00,260.77 L300.40,260.78 L300.80,260.78 L301.20,260.79 L301.60,260.79 L302.00,260.80 L302.40,260.80 L302.80,260.81 L303.20,260.81 L303.60,260.82 L304.00,260.82 L304.40,260.83 L304.80,260.83 L305.20,260.83 L305.60,260.84 L306.00,260.84 L306.40,260.84 L306.80,260.84 L307.20,260.85 L307.60,260.85 L308.00,260.85 L308.40,260.85 L308.80,260.86 L309.20,260.86 L309.60,260.86 L310.00,260.86 L310.40,260.86 L310.80,260.87 L311.20,260.87 L311.60,260.87 L312.00,260.87 L312.40,260.87 L312.80,260.87 L313.20,260.87 L313.60,260.88 L314.00,260.88 L314.40,260.88 L314.80,260.88 L315.20,260.88 L315.60,260.88 L316.00,260.88 L316.40,260.88 L316.80,260.88 L317.20,260.88 L317.60,260.89 L318.00,260.89 L318.40,260.89 L318.80,260.89 L319.20,260.89 L319.60,260.89 L320.00,260.89 L320.40,260.89 L320.80,260.89 L321.20,260.89 L321.60,260.89 L322.00,260.89 L322.40,260.89 L322.80,260.89 L323.20,260.89 L323.60,260.89 L324.00,260.89 L324.40,260.89 L324.80,260.89 L325.20,260.89 L325.60,260.89 L326.00,260.89 L326.40,260.90 L326.80,260.90 L327.20,260.90 L327.60,260.90 L328.00,260.90 L328.40,260.90 L328.80,260.90 L329.20,260.90 L329.60,260.90 L330.00,260.90 L330.40,260.90 L330.80,260.90 L331.20,260.90 L331.60,260.90 L332.00,260.90 L332.40,260.90 L332.80,260.90" stroke="#8b0000" stroke-width="1.85" fill="none" stroke-linejoin="round"/></g>
<clipPath id="c1b"><rect x="362.80" y="20.10" width="102.70" height="115.80"/></clipPath>
<g clip-path="url(#c1b)">
<path d="M370.60,135.90 L371.00,135.90 L371.40,135.90 L371.80,135.90 L372.20,135.90 L372.60,135.90 L373.00,135.90 L373.40,135.90 L373.80,135.90 L374.20,135.89 L374.60,135.89 L375.00,135.87 L375.40,135.84 L375.80,135.80 L376.20,135.73 L376.60,135.62 L377.00,135.46 L377.40,135.25 L377.80,134.96 L378.20,134.58 L378.60,134.10 L379.00,133.51 L379.40,132.80 L379.80,131.97 L380.20,131.01 L380.60,129.92 L381.00,128.71 L381.40,127.38 L381.80,125.94 L382.20,124.41 L382.60,122.81 L383.00,121.14 L383.40,119.42 L383.80,117.69 L384.20,115.94 L384.60,114.21 L385.00,112.51 L385.40,110.86 L385.80,109.27 L386.20,107.77 L386.60,106.35 L387.00,105.03 L387.40,103.83 L387.80,102.75 L388.20,101.78 L388.60,100.95 L389.00,100.24 L389.40,99.66 L389.80,99.21 L390.20,98.89 L390.60,98.69 L391.00,98.60 L391.40,98.63 L391.80,98.76 L392.20,99.00 L392.60,99.32 L393.00,99.74 L393.40,100.23 L393.80,100.79 L394.20,101.41 L394.60,102.10 L395.00,102.83 L395.40,103.61 L395.80,104.42 L396.20,105.26 L396.60,106.13 L397.00,107.02 L397.40,107.92 L397.80,108.83 L398.20,109.74 L398.60,110.66 L399.00,111.57 L399.40,112.48 L399.80,113.38 L400.20,114.27 L400.60,115.14 L401.00,116.00 L401.40,116.84 L401.80,117.66 L402.20,118.46 L402.60,119.24 L403.00,119.99 L403.40,120.73 L403.80,121.44 L404.20,122.12 L404.60,122.78 L405.00,123.42 L405.40,124.04 L405.80,124.63 L406.20,125.19 L406.60,125.74 L407.00,126.26 L407.40,126.76 L407.80,127.24 L408.20,127.69 L408.60,128.13 L409.00,128.54 L409.40,128.94 L409.80,129.32 L410.20,129.67 L410.60,130.02 L411.00,130.34 L411.40,130.65 L411.80,130.94 L412.20,131.22 L412.60,131.48 L413.00,131.73 L413.40,131.97 L413.80,132.19 L414.20,132.40 L414.60,132.61 L415.00,132.80 L415.40,132.97 L415.80,133.14 L416.20,133.30 L416.60,133.46 L417.00,133.60 L417.40,133.73 L417.80,133.86 L418.20,133.98 L418.60,134.10 L419.00,134.20 L419.40,134.30 L419.80,134.40 L420.20,134.49 L420.60,134.57 L421.00,134.65 L421.40,134.73 L421.80,134.80 L422.20,134.86 L422.60,134.92 L423.00,134.98 L423.40,135.04 L423.80,135.09 L424.20,135.14 L424.60,135.18 L425.00,135.23 L425.40,135.27 L425.80,135.31 L426.20,135.34 L426.60,135.38 L427.00,135.41 L427.40,135.44" stroke="#000" stroke-width="1.95" fill="none" stroke-linejoin="round"/>
<path d="M363.80,135.90 L364.20,135.90 L364.60,135.90 L365.00,135.90 L365.40,135.90 L365.80,135.90 L366.20,135.90 L366.60,135.90 L367.00,135.90 L367.40,135.90 L367.80,135.90 L368.20,135.90 L368.60,135.90 L369.00,135.90 L369.40,135.89 L369.80,135.83 L370.20,135.59 L370.60,134.83 L371.00,132.79 L371.40,128.34 L371.80,120.34 L372.20,108.59 L372.60,94.52 L373.00,80.91 L373.40,70.54 L373.80,64.74 L374.20,63.10 L374.60,64.25 L375.00,66.79 L375.40,69.84 L375.80,72.95 L376.20,75.96 L376.60,78.85 L377.00,81.60 L377.40,84.21 L377.80,86.70 L378.20,89.08 L378.60,91.33 L379.00,93.48 L379.40,95.52 L379.80,97.47 L380.20,99.32 L380.60,101.08 L381.00,102.76 L381.40,104.36 L381.80,105.88 L382.20,107.32 L382.60,108.70 L383.00,110.01 L383.40,111.26 L383.80,112.45 L384.20,113.58 L384.60,114.65 L385.00,115.68 L385.40,116.65 L385.80,117.58 L386.20,118.46 L386.60,119.30 L387.00,120.10 L387.40,120.86 L387.80,121.59 L388.20,122.28 L388.60,122.93 L389.00,123.56 L389.40,124.15 L389.80,124.72 L390.20,125.26 L390.60,125.77 L391.00,126.26 L391.40,126.72 L391.80,127.16 L392.20,127.59 L392.60,127.99 L393.00,128.37 L393.40,128.73 L393.80,129.08 L394.20,129.40 L394.60,129.72 L395.00,130.02 L395.40,130.30 L395.80,130.57 L396.20,130.83 L396.60,131.07 L397.00,131.30 L397.40,131.52 L397.80,131.74 L398.20,131.94 L398.60,132.13 L399.00,132.31 L399.40,132.48 L399.80,132.65 L400.20,132.80 L400.60,132.95 L401.00,133.09 L401.40,133.23 L401.80,133.36 L402.20,133.48 L402.60,133.60 L403.00,133.71 L403.40,133.81 L403.80,133.91 L404.20,134.01 L404.60,134.10 L405.00,134.19 L405.40,134.27 L405.80,134.35 L406.20,134.42 L406.60,134.49 L407.00,134.56 L407.40,134.63 L407.80,134.69 L408.20,134.75 L408.60,134.80 L409.00,134.86 L409.40,134.91 L409.80,134.95 L410.20,135.00 L410.60,135.04 L411.00,135.08 L411.40,135.12 L411.80,135.16 L412.20,135.20 L412.60,135.23 L413.00,135.26 L413.40,135.29 L413.80,135.32 L414.20,135.35 L414.60,135.38 L415.00,135.40 L415.40,135.43 L415.80,135.45 L416.20,135.47 L416.60,135.49 L417.00,135.51 L417.40,135.53 L417.80,135.55 L418.20,135.56 L418.60,135.58 L419.00,135.60 L419.40,135.61 L419.80,135.62 L420.20,135.64 L420.60,135.65 L421.00,135.66 L421.40,135.67 L421.80,135.68 L422.20,135.70 L422.60,135.71 L423.00,135.71 L423.40,135.72 L423.80,135.73 L424.20,135.74 L424.60,135.75 L425.00,135.76 L425.40,135.76 L425.80,135.77 L426.20,135.78 L426.60,135.78 L427.00,135.79 L427.40,135.79 L427.80,135.80 L428.20,135.80 L428.60,135.81 L429.00,135.81 L429.40,135.82 L429.80,135.82 L430.20,135.82 L430.60,135.83 L431.00,135.83 L431.40,135.83 L431.80,135.84 L432.20,135.84 L432.60,135.84 L433.00,135.85 L433.40,135.85 L433.80,135.85 L434.20,135.85 L434.60,135.86 L435.00,135.86 L435.40,135.86 L435.80,135.86 L436.20,135.86 L436.60,135.87 L437.00,135.87 L437.40,135.87 L437.80,135.87 L438.20,135.87 L438.60,135.87 L439.00,135.87 L439.40,135.88 L439.80,135.88 L440.20,135.88 L440.60,135.88 L441.00,135.88 L441.40,135.88 L441.80,135.88 L442.20,135.88 L442.60,135.88 L443.00,135.88 L443.40,135.89 L443.80,135.89 L444.20,135.89 L444.60,135.89 L445.00,135.89 L445.40,135.89 L445.80,135.89 L446.20,135.89 L446.60,135.89 L447.00,135.89 L447.40,135.89 L447.80,135.89 L448.20,135.89 L448.60,135.89 L449.00,135.89 L449.40,135.89 L449.80,135.89 L450.20,135.89 L450.60,135.89 L451.00,135.89 L451.40,135.89 L451.80,135.89 L452.20,135.89 L452.60,135.90 L453.00,135.90 L453.40,135.90 L453.80,135.90 L454.20,135.90 L454.60,135.90 L455.00,135.90 L455.40,135.90 L455.80,135.90 L456.20,135.90 L456.60,135.90 L457.00,135.90 L457.40,135.90 L457.80,135.90 L458.20,135.90 L458.60,135.90 L459.00,135.90 L459.40,135.90 L459.80,135.90 L460.20,135.90 L460.60,135.90 L461.00,135.90 L461.40,135.90 L461.80,135.90 L462.20,135.90 L462.60,135.90 L463.00,135.90 L463.40,135.90 L463.80,135.90 L464.20,135.90" stroke="#8b0000" stroke-width="1.85" fill="none" stroke-linejoin="round"/></g>
<clipPath id="c2b"><rect x="472.90" y="20.10" width="103.00" height="115.80"/></clipPath>
<g clip-path="url(#c2b)">
<path d="M477.50,135.90 L477.90,135.90 L478.30,135.90 L478.70,135.90 L479.10,135.90 L479.50,135.90 L479.90,135.90 L480.30,135.90 L480.70,135.90 L481.10,135.90 L481.50,135.90 L481.90,135.90 L482.30,135.90 L482.70,135.90 L483.10,135.90 L483.50,135.90 L483.90,135.90 L484.30,135.90 L484.70,135.89 L485.10,135.87 L485.50,135.84 L485.90,135.79 L486.30,135.70 L486.70,135.55 L487.10,135.32 L487.50,134.99 L487.90,134.53 L488.30,133.91 L488.70,133.11 L489.10,132.10 L489.50,130.87 L489.90,129.41 L490.30,127.72 L490.70,125.80 L491.10,123.68 L491.50,121.38 L491.90,118.92 L492.30,116.35 L492.70,113.72 L493.10,111.05 L493.50,108.40 L493.90,105.82 L494.30,103.34 L494.70,101.01 L495.10,98.85 L495.50,96.90 L495.90,95.17 L496.30,93.69 L496.70,92.47 L497.10,91.52 L497.50,90.82 L497.90,90.39 L498.30,90.21 L498.70,90.27 L499.10,90.55 L499.50,91.04 L499.90,91.73 L500.30,92.58 L500.70,93.59 L501.10,94.73 L501.50,95.98 L501.90,97.32 L502.30,98.73 L502.70,100.21 L503.10,101.72 L503.50,103.25 L503.90,104.80 L504.30,106.35 L504.70,107.89 L505.10,109.40 L505.50,110.89 L505.90,112.34 L506.30,113.75 L506.70,115.11 L507.10,116.42 L507.50,117.68 L507.90,118.89 L508.30,120.04 L508.70,121.13 L509.10,122.17 L509.50,123.15 L509.90,124.07 L510.30,124.95 L510.70,125.76 L511.10,126.53 L511.50,127.25 L511.90,127.92 L512.30,128.55 L512.70,129.13 L513.10,129.67 L513.50,130.17 L513.90,130.64 L514.30,131.07 L514.70,131.47 L515.10,131.84 L515.50,132.18 L515.90,132.50 L516.30,132.79 L516.70,133.05 L517.10,133.30 L517.50,133.52 L517.90,133.73 L518.30,133.92 L518.70,134.09 L519.10,134.25 L519.50,134.40 L519.90,134.53 L520.30,134.65 L520.70,134.76 L521.10,134.87 L521.50,134.96 L521.90,135.04 L522.30,135.12 L522.70,135.19 L523.10,135.26 L523.50,135.32 L523.90,135.37 L524.30,135.42" stroke="#000" stroke-width="1.95" fill="none" stroke-linejoin="round"/>
<path d="M473.90,135.90 L474.30,135.90 L474.70,135.90 L475.10,135.90 L475.50,135.90 L475.90,135.90 L476.30,135.89 L476.70,135.84 L477.10,135.61 L477.50,134.76 L477.90,132.18 L478.30,125.96 L478.70,113.93 L479.10,95.41 L479.50,72.92 L479.90,51.74 L480.30,37.12 L480.70,31.22 L481.10,32.67 L481.50,38.47 L481.90,45.96 L482.30,53.62 L482.70,60.86 L483.10,67.51 L483.50,73.59 L483.90,79.12 L484.30,84.16 L484.70,88.76 L485.10,92.95 L485.50,96.76 L485.90,100.24 L486.30,103.41 L486.70,106.29 L487.10,108.92 L487.50,111.32 L487.90,113.50 L488.30,115.49 L488.70,117.30 L489.10,118.96 L489.50,120.46 L489.90,121.83 L490.30,123.08 L490.70,124.22 L491.10,125.26 L491.50,126.20 L491.90,127.07 L492.30,127.85 L492.70,128.56 L493.10,129.22 L493.50,129.81 L493.90,130.35 L494.30,130.84 L494.70,131.29 L495.10,131.70 L495.50,132.08 L495.90,132.41 L496.30,132.72 L496.70,133.01 L497.10,133.26 L497.50,133.50 L497.90,133.71 L498.30,133.91 L498.70,134.08 L499.10,134.24 L499.50,134.39 L499.90,134.53 L500.30,134.65 L500.70,134.76 L501.10,134.86 L501.50,134.95 L501.90,135.04 L502.30,135.11 L502.70,135.18 L503.10,135.25 L503.50,135.30 L503.90,135.36 L504.30,135.41 L504.70,135.45 L505.10,135.49 L505.50,135.53 L505.90,135.56 L506.30,135.59 L506.70,135.62 L507.10,135.64 L507.50,135.67 L507.90,135.69 L508.30,135.71 L508.70,135.72 L509.10,135.74 L509.50,135.75 L509.90,135.77 L510.30,135.78 L510.70,135.79 L511.10,135.80 L511.50,135.81 L511.90,135.82 L512.30,135.82 L512.70,135.83 L513.10,135.84 L513.50,135.84 L513.90,135.85 L514.30,135.85 L514.70,135.86 L515.10,135.86 L515.50,135.86 L515.90,135.87 L516.30,135.87 L516.70,135.87 L517.10,135.87 L517.50,135.88 L517.90,135.88 L518.30,135.88 L518.70,135.88 L519.10,135.88 L519.50,135.89 L519.90,135.89 L520.30,135.89 L520.70,135.89 L521.10,135.89 L521.50,135.89 L521.90,135.89 L522.30,135.89 L522.70,135.89 L523.10,135.89 L523.50,135.89 L523.90,135.89 L524.30,135.90 L524.70,135.90 L525.10,135.90 L525.50,135.90 L525.90,135.90 L526.30,135.90 L526.70,135.90 L527.10,135.90 L527.50,135.90 L527.90,135.90 L528.30,135.90 L528.70,135.90 L529.10,135.90 L529.50,135.90 L529.90,135.90 L530.30,135.90 L530.70,135.90 L531.10,135.90 L531.50,135.90 L531.90,135.90 L532.30,135.90 L532.70,135.90 L533.10,135.90 L533.50,135.90 L533.90,135.90 L534.30,135.90 L534.70,135.90 L535.10,135.90 L535.50,135.90 L535.90,135.90 L536.30,135.90 L536.70,135.90 L537.10,135.90 L537.50,135.90 L537.90,135.90 L538.30,135.90 L538.70,135.90 L539.10,135.90 L539.50,135.90 L539.90,135.90 L540.30,135.90 L540.70,135.90 L541.10,135.90 L541.50,135.90 L541.90,135.90 L542.30,135.90 L542.70,135.90 L543.10,135.90 L543.50,135.90 L543.90,135.90 L544.30,135.90 L544.70,135.90 L545.10,135.90 L545.50,135.90 L545.90,135.90 L546.30,135.90 L546.70,135.90 L547.10,135.90 L547.50,135.90 L547.90,135.90 L548.30,135.90 L548.70,135.90 L549.10,135.90 L549.50,135.90 L549.90,135.90 L550.30,135.90 L550.70,135.90 L551.10,135.90 L551.50,135.90 L551.90,135.90 L552.30,135.90 L552.70,135.90 L553.10,135.90 L553.50,135.90 L553.90,135.90 L554.30,135.90 L554.70,135.90 L555.10,135.90 L555.50,135.90 L555.90,135.90 L556.30,135.90 L556.70,135.90 L557.10,135.90 L557.50,135.90 L557.90,135.90 L558.30,135.90 L558.70,135.90 L559.10,135.90 L559.50,135.90 L559.90,135.90 L560.30,135.90 L560.70,135.90 L561.10,135.90 L561.50,135.90 L561.90,135.90 L562.30,135.90 L562.70,135.90 L563.10,135.90 L563.50,135.90 L563.90,135.90 L564.30,135.90 L564.70,135.90 L565.10,135.90 L565.50,135.90 L565.90,135.90 L566.30,135.90 L566.70,135.90 L567.10,135.90 L567.50,135.90 L567.90,135.90 L568.30,135.90 L568.70,135.90 L569.10,135.90 L569.50,135.90 L569.90,135.90 L570.30,135.90 L570.70,135.90 L571.10,135.90 L571.50,135.90 L571.90,135.90 L572.30,135.90 L572.70,135.90 L573.10,135.90 L573.50,135.90 L573.90,135.90 L574.30,135.90 L574.70,135.90" stroke="#8b0000" stroke-width="1.85" fill="none" stroke-linejoin="round"/></g>
<clipPath id="c3b"><rect x="583.00" y="20.10" width="103.00" height="115.80"/></clipPath>
<g clip-path="url(#c3b)">
<path d="M592.40,135.90 L592.80,135.90 L593.20,135.90 L593.60,135.90 L594.00,135.90 L594.40,135.90 L594.80,135.90 L595.20,135.90 L595.60,135.90 L596.00,135.90 L596.40,135.90 L596.80,135.90 L597.20,135.90 L597.60,135.90 L598.00,135.90 L598.40,135.90 L598.80,135.90 L599.20,135.90 L599.60,135.89 L600.00,135.88 L600.40,135.86 L600.80,135.83 L601.20,135.77 L601.60,135.68 L602.00,135.55 L602.40,135.36 L602.80,135.11 L603.20,134.78 L603.60,134.37 L604.00,133.86 L604.40,133.26 L604.80,132.56 L605.20,131.75 L605.60,130.85 L606.00,129.86 L606.40,128.78 L606.80,127.63 L607.20,126.41 L607.60,125.14 L608.00,123.82 L608.40,122.48 L608.80,121.13 L609.20,119.77 L609.60,118.43 L610.00,117.11 L610.40,115.83 L610.80,114.59 L611.20,113.41 L611.60,112.29 L612.00,111.23 L612.40,110.26 L612.80,109.36 L613.20,108.54 L613.60,107.81 L614.00,107.17 L614.40,106.61 L614.80,106.14 L615.20,105.75 L615.60,105.45 L616.00,105.23 L616.40,105.08 L616.80,105.01 L617.20,105.01 L617.60,105.08 L618.00,105.21 L618.40,105.40 L618.80,105.64 L619.20,105.94 L619.60,106.28 L620.00,106.66 L620.40,107.09 L620.80,107.54 L621.20,108.03 L621.60,108.55 L622.00,109.09 L622.40,109.65 L622.80,110.22 L623.20,110.82 L623.60,111.42 L624.00,112.03 L624.40,112.65 L624.80,113.27 L625.20,113.89 L625.60,114.52 L626.00,115.14 L626.40,115.76 L626.80,116.37 L627.20,116.98 L627.60,117.58 L628.00,118.18 L628.40,118.76 L628.80,119.33 L629.20,119.90 L629.60,120.45 L630.00,120.99 L630.40,121.52 L630.80,122.03 L631.20,122.54 L631.60,123.03 L632.00,123.51 L632.40,123.97 L632.80,124.42 L633.20,124.86 L633.60,125.28 L634.00,125.69 L634.40,126.09 L634.80,126.48 L635.20,126.85 L635.60,127.21 L636.00,127.56 L636.40,127.89 L636.80,128.22 L637.20,128.53 L637.60,128.83 L638.00,129.12 L638.40,129.40 L638.80,129.67 L639.20,129.93 L639.60,130.18 L640.00,130.42 L640.40,130.65 L640.80,130.87 L641.20,131.09 L641.60,131.29 L642.00,131.49 L642.40,131.68 L642.80,131.86 L643.20,132.03 L643.60,132.20 L644.00,132.36 L644.40,132.51 L644.80,132.66 L645.20,132.80 L645.60,132.93 L646.00,133.06 L646.40,133.18 L646.80,133.30 L647.20,133.42 L647.60,133.53 L648.00,133.63 L648.40,133.73 L648.80,133.82 L649.20,133.91 L649.60,134.00 L650.00,134.09 L650.40,134.17 L650.80,134.24 L651.20,134.31 L651.60,134.38 L652.00,134.45 L652.40,134.52 L652.80,134.58 L653.20,134.63 L653.60,134.69 L654.00,134.74 L654.40,134.79 L654.80,134.84 L655.20,134.89 L655.60,134.93 L656.00,134.98 L656.40,135.02 L656.80,135.06 L657.20,135.09 L657.60,135.13 L658.00,135.16 L658.40,135.20 L658.80,135.23 L659.20,135.26 L659.60,135.28 L660.00,135.31 L660.40,135.34 L660.80,135.36 L661.20,135.39 L661.60,135.41 L662.00,135.43" stroke="#000" stroke-width="1.95" fill="none" stroke-linejoin="round"/>
<path d="M584.00,135.90 L584.40,135.90 L584.80,135.90 L585.20,135.90 L585.60,135.90 L586.00,135.90 L586.40,135.90 L586.80,135.90 L587.20,135.90 L587.60,135.90 L588.00,135.90 L588.40,135.90 L588.80,135.90 L589.20,135.90 L589.60,135.90 L590.00,135.90 L590.40,135.90 L590.80,135.90 L591.20,135.88 L591.60,135.81 L592.00,135.54 L592.40,134.73 L592.80,132.71 L593.20,128.59 L593.60,121.65 L594.00,112.10 L594.40,101.37 L594.80,91.62 L595.20,84.61 L595.60,80.90 L596.00,79.90 L596.40,80.57 L596.80,82.03 L597.20,83.75 L597.60,85.52 L598.00,87.25 L598.40,88.92 L598.80,90.54 L599.20,92.11 L599.60,93.62 L600.00,95.07 L600.40,96.48 L600.80,97.84 L601.20,99.15 L601.60,100.42 L602.00,101.64 L602.40,102.82 L602.80,103.97 L603.20,105.07 L603.60,106.13 L604.00,107.16 L604.40,108.15 L604.80,109.10 L605.20,110.03 L605.60,110.92 L606.00,111.78 L606.40,112.61 L606.80,113.42 L607.20,114.19 L607.60,114.94 L608.00,115.66 L608.40,116.36 L608.80,117.03 L609.20,117.68 L609.60,118.31 L610.00,118.92 L610.40,119.50 L610.80,120.07 L611.20,120.62 L611.60,121.14 L612.00,121.65 L612.40,122.14 L612.80,122.62 L613.20,123.07 L613.60,123.52 L614.00,123.94 L614.40,124.36 L614.80,124.75 L615.20,125.14 L615.60,125.51 L616.00,125.87 L616.40,126.21 L616.80,126.55 L617.20,126.87 L617.60,127.18 L618.00,127.48 L618.40,127.77 L618.80,128.05 L619.20,128.32 L619.60,128.58 L620.00,128.84 L620.40,129.08 L620.80,129.32 L621.20,129.54 L621.60,129.76 L622.00,129.97 L622.40,130.18 L622.80,130.37 L623.20,130.57 L623.60,130.75 L624.00,130.93 L624.40,131.10 L624.80,131.26 L625.20,131.42 L625.60,131.58 L626.00,131.73 L626.40,131.87 L626.80,132.01 L627.20,132.14 L627.60,132.27 L628.00,132.40 L628.40,132.52 L628.80,132.64 L629.20,132.75 L629.60,132.86 L630.00,132.96 L630.40,133.06 L630.80,133.16 L631.20,133.26 L631.60,133.35 L632.00,133.43 L632.40,133.52 L632.80,133.60 L633.20,133.68 L633.60,133.76 L634.00,133.83 L634.40,133.90 L634.80,133.97 L635.20,134.04 L635.60,134.10 L636.00,134.16 L636.40,134.22 L636.80,134.28 L637.20,134.34 L637.60,134.39 L638.00,134.44 L638.40,134.49 L638.80,134.54 L639.20,134.59 L639.60,134.63 L640.00,134.68 L640.40,134.72 L640.80,134.76 L641.20,134.80 L641.60,134.84 L642.00,134.87 L642.40,134.91 L642.80,134.94 L643.20,134.98 L643.60,135.01 L644.00,135.04 L644.40,135.07 L644.80,135.10 L645.20,135.13 L645.60,135.15 L646.00,135.18 L646.40,135.20 L646.80,135.23 L647.20,135.25 L647.60,135.27 L648.00,135.29 L648.40,135.32 L648.80,135.34 L649.20,135.35 L649.60,135.37 L650.00,135.39 L650.40,135.41 L650.80,135.43 L651.20,135.44 L651.60,135.46 L652.00,135.47 L652.40,135.49 L652.80,135.50 L653.20,135.52 L653.60,135.53 L654.00,135.54 L654.40,135.55 L654.80,135.57 L655.20,135.58 L655.60,135.59 L656.00,135.60 L656.40,135.61 L656.80,135.62 L657.20,135.63 L657.60,135.64 L658.00,135.65 L658.40,135.66 L658.80,135.67 L659.20,135.67 L659.60,135.68 L660.00,135.69 L660.40,135.70 L660.80,135.70 L661.20,135.71 L661.60,135.72 L662.00,135.72 L662.40,135.73 L662.80,135.73 L663.20,135.74 L663.60,135.75 L664.00,135.75 L664.40,135.76 L664.80,135.76 L665.20,135.77 L665.60,135.77 L666.00,135.78 L666.40,135.78 L666.80,135.78 L667.20,135.79 L667.60,135.79 L668.00,135.80 L668.40,135.80 L668.80,135.80 L669.20,135.81 L669.60,135.81 L670.00,135.81 L670.40,135.82 L670.80,135.82 L671.20,135.82 L671.60,135.82 L672.00,135.83 L672.40,135.83 L672.80,135.83 L673.20,135.83 L673.60,135.84 L674.00,135.84 L674.40,135.84 L674.80,135.84 L675.20,135.84 L675.60,135.85 L676.00,135.85 L676.40,135.85 L676.80,135.85 L677.20,135.85 L677.60,135.85 L678.00,135.86 L678.40,135.86 L678.80,135.86 L679.20,135.86 L679.60,135.86 L680.00,135.86 L680.40,135.86 L680.80,135.87 L681.20,135.87 L681.60,135.87 L682.00,135.87 L682.40,135.87 L682.80,135.87 L683.20,135.87 L683.60,135.87 L684.00,135.87 L684.40,135.88 L684.80,135.88" stroke="#8b0000" stroke-width="1.85" fill="none" stroke-linejoin="round"/></g>
<clipPath id="c4b"><rect x="361.00" y="146.30" width="102.80" height="115.60"/></clipPath>
<g clip-path="url(#c4b)">
<path d="M374.00,261.90 L374.40,261.90 L374.80,261.90 L375.20,261.90 L375.60,261.90 L376.00,261.90 L376.40,261.90 L376.80,261.90 L377.20,261.90 L377.60,261.90 L378.00,261.90 L378.40,261.90 L378.80,261.90 L379.20,261.89 L379.60,261.87 L380.00,261.84 L380.40,261.79 L380.80,261.70 L381.20,261.57 L381.60,261.40 L382.00,261.16 L382.40,260.86 L382.80,260.50 L383.20,260.06 L383.60,259.54 L384.00,258.96 L384.40,258.30 L384.80,257.59 L385.20,256.81 L385.60,255.98 L386.00,255.11 L386.40,254.20 L386.80,253.26 L387.20,252.31 L387.60,251.35 L388.00,250.38 L388.40,249.42 L388.80,248.48 L389.20,247.55 L389.60,246.65 L390.00,245.78 L390.40,244.94 L390.80,244.15 L391.20,243.40 L391.60,242.69 L392.00,242.03 L392.40,241.42 L392.80,240.86 L393.20,240.35 L393.60,239.90 L394.00,239.49 L394.40,239.13 L394.80,238.82 L395.20,238.56 L395.60,238.34 L396.00,238.17 L396.40,238.04 L396.80,237.96 L397.20,237.91 L397.60,237.90 L398.00,237.93 L398.40,237.99 L398.80,238.08 L399.20,238.20 L399.60,238.35 L400.00,238.52 L400.40,238.72 L400.80,238.94 L401.20,239.18 L401.60,239.44 L402.00,239.71 L402.40,240.00 L402.80,240.30 L403.20,240.62 L403.60,240.94 L404.00,241.28 L404.40,241.62 L404.80,241.97 L405.20,242.32 L405.60,242.68 L406.00,243.05 L406.40,243.41 L406.80,243.78 L407.20,244.15 L407.60,244.52 L408.00,244.89 L408.40,245.25 L408.80,245.62 L409.20,245.98 L409.60,246.35 L410.00,246.70 L410.40,247.06 L410.80,247.41 L411.20,247.76 L411.60,248.10 L412.00,248.44 L412.40,248.77 L412.80,249.10 L413.20,249.43 L413.60,249.74 L414.00,250.06 L414.40,250.36 L414.80,250.66 L415.20,250.96 L415.60,251.25 L416.00,251.53 L416.40,251.81 L416.80,252.08 L417.20,252.35 L417.60,252.61 L418.00,252.86 L418.40,253.11 L418.80,253.35 L419.20,253.59 L419.60,253.82 L420.00,254.05 L420.40,254.27 L420.80,254.48 L421.20,254.69 L421.60,254.90 L422.00,255.10 L422.40,255.29 L422.80,255.48 L423.20,255.66 L423.60,255.84 L424.00,256.02 L424.40,256.19 L424.80,256.35 L425.20,256.51 L425.60,256.67 L426.00,256.82 L426.40,256.97 L426.80,257.11 L427.20,257.25 L427.60,257.39 L428.00,257.52 L428.40,257.65 L428.80,257.77 L429.20,257.89 L429.60,258.01 L430.00,258.12 L430.40,258.23 L430.80,258.34 L431.20,258.45 L431.60,258.55 L432.00,258.65 L432.40,258.74 L432.80,258.84 L433.20,258.93 L433.60,259.01 L434.00,259.10 L434.40,259.18 L434.80,259.26 L435.20,259.34 L435.60,259.41 L436.00,259.49 L436.40,259.56 L436.80,259.63 L437.20,259.70 L437.60,259.76 L438.00,259.82 L438.40,259.88 L438.80,259.94 L439.20,260.00 L439.60,260.06 L440.00,260.11 L440.40,260.16 L440.80,260.21 L441.20,260.26 L441.60,260.31 L442.00,260.36 L442.40,260.40 L442.80,260.45 L443.20,260.49 L443.60,260.53 L444.00,260.57 L444.40,260.61 L444.80,260.65 L445.20,260.68 L445.60,260.72 L446.00,260.75 L446.40,260.79 L446.80,260.82 L447.20,260.85 L447.60,260.88 L448.00,260.91 L448.40,260.94 L448.80,260.97 L449.20,260.99 L449.60,261.02 L450.00,261.05 L450.40,261.07 L450.80,261.09 L451.20,261.12 L451.60,261.14 L452.00,261.16 L452.40,261.18 L452.80,261.20 L453.20,261.22 L453.60,261.24 L454.00,261.26 L454.40,261.28 L454.80,261.30 L455.20,261.31 L455.60,261.33 L456.00,261.35 L456.40,261.36 L456.80,261.38 L457.20,261.39 L457.60,261.41 L458.00,261.42 L458.40,261.43 L458.80,261.45" stroke="#000" stroke-width="1.95" fill="none" stroke-linejoin="round"/>
<path d="M362.00,261.90 L362.40,261.90 L362.80,261.90 L363.20,261.90 L363.60,261.90 L364.00,261.90 L364.40,261.90 L364.80,261.90 L365.20,261.90 L365.60,261.90 L366.00,261.90 L366.40,261.90 L366.80,261.90 L367.20,261.90 L367.60,261.90 L368.00,261.90 L368.40,261.90 L368.80,261.90 L369.20,261.90 L369.60,261.90 L370.00,261.90 L370.40,261.90 L370.80,261.90 L371.20,261.90 L371.60,261.90 L372.00,261.90 L372.40,261.89 L372.80,261.88 L373.20,261.81 L373.60,261.62 L374.00,261.10 L374.40,259.95 L374.80,257.76 L375.20,254.19 L375.60,249.25 L376.00,243.43 L376.40,237.63 L376.80,232.75 L377.20,229.38 L377.60,227.55 L378.00,226.92 L378.40,227.05 L378.80,227.57 L379.20,228.23 L379.60,228.95 L380.00,229.67 L380.40,230.38 L380.80,231.07 L381.20,231.75 L381.60,232.41 L382.00,233.06 L382.40,233.69 L382.80,234.31 L383.20,234.92 L383.60,235.51 L384.00,236.09 L384.40,236.66 L384.80,237.21 L385.20,237.75 L385.60,238.28 L386.00,238.80 L386.40,239.31 L386.80,239.81 L387.20,240.29 L387.60,240.77 L388.00,241.23 L388.40,241.69 L388.80,242.13 L389.20,242.57 L389.60,242.99 L390.00,243.41 L390.40,243.81 L390.80,244.21 L391.20,244.60 L391.60,244.98 L392.00,245.35 L392.40,245.71 L392.80,246.07 L393.20,246.42 L393.60,246.76 L394.00,247.09 L394.40,247.42 L394.80,247.73 L395.20,248.05 L395.60,248.35 L396.00,248.65 L396.40,248.94 L396.80,249.22 L397.20,249.50 L397.60,249.78 L398.00,250.04 L398.40,250.30 L398.80,250.56 L399.20,250.81 L399.60,251.05 L400.00,251.29 L400.40,251.52 L400.80,251.75 L401.20,251.97 L401.60,252.19 L402.00,252.40 L402.40,252.61 L402.80,252.82 L403.20,253.02 L403.60,253.21 L404.00,253.40 L404.40,253.59 L404.80,253.77 L405.20,253.95 L405.60,254.13 L406.00,254.30 L406.40,254.46 L406.80,254.63 L407.20,254.79 L407.60,254.94 L408.00,255.10 L408.40,255.25 L408.80,255.39 L409.20,255.54 L409.60,255.68 L410.00,255.81 L410.40,255.95 L410.80,256.08 L411.20,256.20 L411.60,256.33 L412.00,256.45 L412.40,256.57 L412.80,256.69 L413.20,256.80 L413.60,256.92 L414.00,257.03 L414.40,257.13 L414.80,257.24 L415.20,257.34 L415.60,257.44 L416.00,257.54 L416.40,257.63 L416.80,257.73 L417.20,257.82 L417.60,257.91 L418.00,258.00 L418.40,258.08 L418.80,258.17 L419.20,258.25 L419.60,258.33 L420.00,258.41 L420.40,258.48 L420.80,258.56 L421.20,258.63 L421.60,258.70 L422.00,258.77 L422.40,258.84 L422.80,258.91 L423.20,258.98 L423.60,259.04 L424.00,259.10 L424.40,259.16 L424.80,259.22 L425.20,259.28 L425.60,259.34 L426.00,259.40 L426.40,259.45 L426.80,259.51 L427.20,259.56 L427.60,259.61 L428.00,259.66 L428.40,259.71 L428.80,259.76 L429.20,259.80 L429.60,259.85 L430.00,259.90 L430.40,259.94 L430.80,259.98 L431.20,260.03 L431.60,260.07 L432.00,260.11 L432.40,260.15 L432.80,260.18 L433.20,260.22 L433.60,260.26 L434.00,260.30 L434.40,260.33 L434.80,260.36 L435.20,260.40 L435.60,260.43 L436.00,260.46 L436.40,260.50 L436.80,260.53 L437.20,260.56 L437.60,260.59 L438.00,260.61 L438.40,260.64 L438.80,260.67 L439.20,260.70 L439.60,260.72 L440.00,260.75 L440.40,260.78 L440.80,260.80 L441.20,260.82 L441.60,260.85 L442.00,260.87 L442.40,260.89 L442.80,260.92 L443.20,260.94 L443.60,260.96 L444.00,260.98 L444.40,261.00 L444.80,261.02 L445.20,261.04 L445.60,261.06 L446.00,261.08 L446.40,261.09 L446.80,261.11 L447.20,261.13 L447.60,261.15 L448.00,261.16 L448.40,261.18 L448.80,261.19 L449.20,261.21 L449.60,261.23 L450.00,261.24 L450.40,261.25 L450.80,261.27 L451.20,261.28 L451.60,261.30 L452.00,261.31 L452.40,261.32 L452.80,261.34 L453.20,261.35 L453.60,261.36 L454.00,261.37 L454.40,261.38 L454.80,261.39 L455.20,261.41 L455.60,261.42 L456.00,261.43 L456.40,261.44 L456.80,261.45 L457.20,261.46 L457.60,261.47 L458.00,261.48 L458.40,261.49 L458.80,261.50 L459.20,261.50 L459.60,261.51 L460.00,261.52 L460.40,261.53 L460.80,261.54 L461.20,261.55 L461.60,261.55 L462.00,261.56 L462.40,261.57 L462.80,261.58" stroke="#8b0000" stroke-width="1.85" fill="none" stroke-linejoin="round"/></g>
<clipPath id="c5b"><rect x="471.00" y="146.30" width="102.50" height="115.60"/></clipPath>
<g clip-path="url(#c5b)">
<path d="M480.40,261.90 L480.80,261.90 L481.20,261.90 L481.60,261.90 L482.00,261.90 L482.40,261.90 L482.80,261.90 L483.20,261.90 L483.60,261.90 L484.00,261.90 L484.40,261.89 L484.80,261.88 L485.20,261.85 L485.60,261.80 L486.00,261.71 L486.40,261.59 L486.80,261.40 L487.20,261.14 L487.60,260.80 L488.00,260.37 L488.40,259.83 L488.80,259.18 L489.20,258.41 L489.60,257.53 L490.00,256.54 L490.40,255.44 L490.80,254.25 L491.20,252.97 L491.60,251.61 L492.00,250.20 L492.40,248.75 L492.80,247.27 L493.20,245.77 L493.60,244.28 L494.00,242.81 L494.40,241.37 L494.80,239.98 L495.20,238.64 L495.60,237.37 L496.00,236.17 L496.40,235.06 L496.80,234.03 L497.20,233.09 L497.60,232.25 L498.00,231.50 L498.40,230.85 L498.80,230.30 L499.20,229.84 L499.60,229.48 L500.00,229.21 L500.40,229.02 L500.80,228.92 L501.20,228.90 L501.60,228.96 L502.00,229.09 L502.40,229.28 L502.80,229.54 L503.20,229.85 L503.60,230.22 L504.00,230.63 L504.40,231.09 L504.80,231.58 L505.20,232.11 L505.60,232.67 L506.00,233.26 L506.40,233.86 L506.80,234.49 L507.20,235.13 L507.60,235.79 L508.00,236.45 L508.40,237.12 L508.80,237.79 L509.20,238.47 L509.60,239.15 L510.00,239.82 L510.40,240.49 L510.80,241.15 L511.20,241.81 L511.60,242.46 L512.00,243.10 L512.40,243.73 L512.80,244.35 L513.20,244.95 L513.60,245.55 L514.00,246.13 L514.40,246.69 L514.80,247.25 L515.20,247.79 L515.60,248.31 L516.00,248.82 L516.40,249.32 L516.80,249.80 L517.20,250.27 L517.60,250.72 L518.00,251.16 L518.40,251.58 L518.80,251.99 L519.20,252.39 L519.60,252.77 L520.00,253.14 L520.40,253.50 L520.80,253.84 L521.20,254.17 L521.60,254.49 L522.00,254.80 L522.40,255.09 L522.80,255.38 L523.20,255.65 L523.60,255.92 L524.00,256.17 L524.40,256.41 L524.80,256.65 L525.20,256.87 L525.60,257.09 L526.00,257.29 L526.40,257.49 L526.80,257.68 L527.20,257.86 L527.60,258.04 L528.00,258.20 L528.40,258.37 L528.80,258.52 L529.20,258.67 L529.60,258.81 L530.00,258.94 L530.40,259.07 L530.80,259.20 L531.20,259.31 L531.60,259.43 L532.00,259.54 L532.40,259.64 L532.80,259.74 L533.20,259.83 L533.60,259.93 L534.00,260.01 L534.40,260.10 L534.80,260.18 L535.20,260.25 L535.60,260.32 L536.00,260.39 L536.40,260.46 L536.80,260.52 L537.20,260.58 L537.60,260.64 L538.00,260.70 L538.40,260.75 L538.80,260.80 L539.20,260.85 L539.60,260.90 L540.00,260.94 L540.40,260.98 L540.80,261.02 L541.20,261.06 L541.60,261.10 L542.00,261.13 L542.40,261.17 L542.80,261.20 L543.20,261.23 L543.60,261.26 L544.00,261.29 L544.40,261.32 L544.80,261.34 L545.20,261.37 L545.60,261.39 L546.00,261.41 L546.40,261.43" stroke="#000" stroke-width="1.95" fill="none" stroke-linejoin="round"/>
<path d="M472.00,261.90 L472.40,261.90 L472.80,261.90 L473.20,261.90 L473.60,261.90 L474.00,261.90 L474.40,261.90 L474.80,261.90 L475.20,261.90 L475.60,261.90 L476.00,261.90 L476.40,261.90 L476.80,261.90 L477.20,261.90 L477.60,261.90 L478.00,261.90 L478.40,261.90 L478.80,261.89 L479.20,261.86 L479.60,261.74 L480.00,261.37 L480.40,260.40 L480.80,258.26 L481.20,254.19 L481.60,247.61 L482.00,238.59 L482.40,228.11 L482.80,217.87 L483.20,209.60 L483.60,204.29 L484.00,201.95 L484.40,201.90 L484.80,203.24 L485.20,205.24 L485.60,207.47 L486.00,209.71 L486.40,211.90 L486.80,214.00 L487.20,216.02 L487.60,217.95 L488.00,219.80 L488.40,221.57 L488.80,223.27 L489.20,224.90 L489.60,226.45 L490.00,227.95 L490.40,229.38 L490.80,230.75 L491.20,232.06 L491.60,233.31 L492.00,234.52 L492.40,235.67 L492.80,236.77 L493.20,237.83 L493.60,238.85 L494.00,239.82 L494.40,240.75 L494.80,241.64 L495.20,242.49 L495.60,243.31 L496.00,244.09 L496.40,244.84 L496.80,245.56 L497.20,246.25 L497.60,246.90 L498.00,247.54 L498.40,248.14 L498.80,248.72 L499.20,249.27 L499.60,249.81 L500.00,250.32 L500.40,250.80 L500.80,251.27 L501.20,251.72 L501.60,252.15 L502.00,252.56 L502.40,252.95 L502.80,253.33 L503.20,253.69 L503.60,254.03 L504.00,254.36 L504.40,254.68 L504.80,254.99 L505.20,255.28 L505.60,255.56 L506.00,255.82 L506.40,256.08 L506.80,256.32 L507.20,256.56 L507.60,256.78 L508.00,257.00 L508.40,257.21 L508.80,257.40 L509.20,257.59 L509.60,257.77 L510.00,257.95 L510.40,258.11 L510.80,258.27 L511.20,258.43 L511.60,258.57 L512.00,258.71 L512.40,258.85 L512.80,258.97 L513.20,259.10 L513.60,259.22 L514.00,259.33 L514.40,259.44 L514.80,259.54 L515.20,259.64 L515.60,259.74 L516.00,259.83 L516.40,259.91 L516.80,260.00 L517.20,260.08 L517.60,260.15 L518.00,260.23 L518.40,260.30 L518.80,260.37 L519.20,260.43 L519.60,260.49 L520.00,260.55 L520.40,260.61 L520.80,260.66 L521.20,260.71 L521.60,260.76 L522.00,260.81 L522.40,260.86 L522.80,260.90 L523.20,260.94 L523.60,260.98 L524.00,261.02 L524.40,261.06 L524.80,261.10 L525.20,261.13 L525.60,261.16 L526.00,261.19 L526.40,261.22 L526.80,261.25 L527.20,261.28 L527.60,261.30 L528.00,261.33 L528.40,261.35 L528.80,261.38 L529.20,261.40 L529.60,261.42 L530.00,261.44 L530.40,261.46 L530.80,261.48 L531.20,261.50 L531.60,261.51 L532.00,261.53 L532.40,261.54 L532.80,261.56 L533.20,261.57 L533.60,261.59 L534.00,261.60 L534.40,261.61 L534.80,261.63 L535.20,261.64 L535.60,261.65 L536.00,261.66 L536.40,261.67 L536.80,261.68 L537.20,261.69 L537.60,261.70 L538.00,261.71 L538.40,261.71 L538.80,261.72 L539.20,261.73 L539.60,261.74 L540.00,261.74 L540.40,261.75 L540.80,261.76 L541.20,261.76 L541.60,261.77 L542.00,261.77 L542.40,261.78 L542.80,261.78 L543.20,261.79 L543.60,261.79 L544.00,261.80 L544.40,261.80 L544.80,261.81 L545.20,261.81 L545.60,261.81 L546.00,261.82 L546.40,261.82 L546.80,261.82 L547.20,261.83 L547.60,261.83 L548.00,261.83 L548.40,261.84 L548.80,261.84 L549.20,261.84 L549.60,261.84 L550.00,261.85 L550.40,261.85 L550.80,261.85 L551.20,261.85 L551.60,261.85 L552.00,261.86 L552.40,261.86 L552.80,261.86 L553.20,261.86 L553.60,261.86 L554.00,261.87 L554.40,261.87 L554.80,261.87 L555.20,261.87 L555.60,261.87 L556.00,261.87 L556.40,261.87 L556.80,261.87 L557.20,261.88 L557.60,261.88 L558.00,261.88 L558.40,261.88 L558.80,261.88 L559.20,261.88 L559.60,261.88 L560.00,261.88 L560.40,261.88 L560.80,261.88 L561.20,261.88 L561.60,261.88 L562.00,261.89 L562.40,261.89 L562.80,261.89 L563.20,261.89 L563.60,261.89 L564.00,261.89 L564.40,261.89 L564.80,261.89 L565.20,261.89 L565.60,261.89 L566.00,261.89 L566.40,261.89 L566.80,261.89 L567.20,261.89 L567.60,261.89 L568.00,261.89 L568.40,261.89 L568.80,261.89 L569.20,261.89 L569.60,261.89 L570.00,261.89 L570.40,261.89 L570.80,261.89 L571.20,261.89 L571.60,261.89 L572.00,261.89 L572.40,261.90" stroke="#8b0000" stroke-width="1.85" fill="none" stroke-linejoin="round"/></g>
<clipPath id="c6b"><rect x="581.40" y="146.30" width="102.60" height="115.60"/></clipPath>
<g clip-path="url(#c6b)">
<path d="M587.20,261.90 L587.60,261.90 L588.00,261.90 L588.40,261.90 L588.80,261.90 L589.20,261.90 L589.60,261.90 L590.00,261.90 L590.40,261.90 L590.80,261.90 L591.20,261.90 L591.60,261.90 L592.00,261.90 L592.40,261.90 L592.80,261.90 L593.20,261.90 L593.60,261.90 L594.00,261.90 L594.40,261.90 L594.80,261.89 L595.20,261.88 L595.60,261.85 L596.00,261.79 L596.40,261.68 L596.80,261.52 L597.20,261.27 L597.60,260.92 L598.00,260.46 L598.40,259.86 L598.80,259.12 L599.20,258.22 L599.60,257.18 L600.00,256.00 L600.40,254.68 L600.80,253.25 L601.20,251.70 L601.60,250.08 L602.00,248.40 L602.40,246.67 L602.80,244.93 L603.20,243.20 L603.60,241.49 L604.00,239.83 L604.40,238.23 L604.80,236.71 L605.20,235.28 L605.60,233.95 L606.00,232.73 L606.40,231.62 L606.80,230.64 L607.20,229.78 L607.60,229.04 L608.00,228.43 L608.40,227.94 L608.80,227.56 L609.20,227.30 L609.60,227.15 L610.00,227.10 L610.40,227.15 L610.80,227.29 L611.20,227.51 L611.60,227.81 L612.00,228.18 L612.40,228.62 L612.80,229.11 L613.20,229.65 L613.60,230.24 L614.00,230.87 L614.40,231.54 L614.80,232.23 L615.20,232.95 L615.60,233.68 L616.00,234.43 L616.40,235.20 L616.80,235.97 L617.20,236.74 L617.60,237.51 L618.00,238.29 L618.40,239.05 L618.80,239.82 L619.20,240.57 L619.60,241.31 L620.00,242.05 L620.40,242.77 L620.80,243.47 L621.20,244.16 L621.60,244.84 L622.00,245.49 L622.40,246.13 L622.80,246.76 L623.20,247.36 L623.60,247.95 L624.00,248.52 L624.40,249.07 L624.80,249.60 L625.20,250.12 L625.60,250.62 L626.00,251.10 L626.40,251.56 L626.80,252.01 L627.20,252.44 L627.60,252.85 L628.00,253.25 L628.40,253.63 L628.80,254.00 L629.20,254.35 L629.60,254.69 L630.00,255.01 L630.40,255.32 L630.80,255.62 L631.20,255.91 L631.60,256.18 L632.00,256.44 L632.40,256.69 L632.80,256.93 L633.20,257.16 L633.60,257.38 L634.00,257.59 L634.40,257.79 L634.80,257.98 L635.20,258.16 L635.60,258.34 L636.00,258.50 L636.40,258.66 L636.80,258.81 L637.20,258.96 L637.60,259.10 L638.00,259.23 L638.40,259.35 L638.80,259.47 L639.20,259.59 L639.60,259.70 L640.00,259.80 L640.40,259.90 L640.80,259.99 L641.20,260.08 L641.60,260.17 L642.00,260.25 L642.40,260.33 L642.80,260.40 L643.20,260.47 L643.60,260.54 L644.00,260.61 L644.40,260.67 L644.80,260.72 L645.20,260.78 L645.60,260.83 L646.00,260.88 L646.40,260.93 L646.80,260.98 L647.20,261.02 L647.60,261.06 L648.00,261.10 L648.40,261.14 L648.80,261.17 L649.20,261.21 L649.60,261.24 L650.00,261.27 L650.40,261.30 L650.80,261.33 L651.20,261.36 L651.60,261.38 L652.00,261.40 L652.40,261.43 L652.80,261.45" stroke="#000" stroke-width="1.95" fill="none" stroke-linejoin="round"/>
<path d="M582.40,261.90 L582.80,261.90 L583.20,261.90 L583.60,261.90 L584.00,261.90 L584.40,261.90 L584.80,261.90 L585.20,261.90 L585.60,261.89 L586.00,261.88 L586.40,261.80 L586.80,261.55 L587.20,260.85 L587.60,259.17 L588.00,255.72 L588.40,249.70 L588.80,240.78 L589.20,229.55 L589.60,217.61 L590.00,207.02 L590.40,199.36 L590.80,195.18 L591.20,194.00 L591.60,194.86 L592.00,196.81 L592.40,199.22 L592.80,201.74 L593.20,204.22 L593.60,206.62 L594.00,208.92 L594.40,211.12 L594.80,213.24 L595.20,215.27 L595.60,217.21 L596.00,219.07 L596.40,220.86 L596.80,222.57 L597.20,224.20 L597.60,225.77 L598.00,227.28 L598.40,228.72 L598.80,230.10 L599.20,231.43 L599.60,232.70 L600.00,233.92 L600.40,235.08 L600.80,236.20 L601.20,237.27 L601.60,238.30 L602.00,239.28 L602.40,240.22 L602.80,241.12 L603.20,241.99 L603.60,242.82 L604.00,243.61 L604.40,244.38 L604.80,245.11 L605.20,245.81 L605.60,246.48 L606.00,247.12 L606.40,247.73 L606.80,248.32 L607.20,248.89 L607.60,249.43 L608.00,249.95 L608.40,250.45 L608.80,250.93 L609.20,251.38 L609.60,251.82 L610.00,252.24 L610.40,252.64 L610.80,253.03 L611.20,253.40 L611.60,253.75 L612.00,254.09 L612.40,254.42 L612.80,254.73 L613.20,255.03 L613.60,255.31 L614.00,255.59 L614.40,255.85 L614.80,256.10 L615.20,256.35 L615.60,256.58 L616.00,256.80 L616.40,257.01 L616.80,257.21 L617.20,257.41 L617.60,257.60 L618.00,257.78 L618.40,257.95 L618.80,258.11 L619.20,258.27 L619.60,258.42 L620.00,258.57 L620.40,258.71 L620.80,258.84 L621.20,258.97 L621.60,259.09 L622.00,259.21 L622.40,259.32 L622.80,259.43 L623.20,259.53 L623.60,259.63 L624.00,259.72 L624.40,259.81 L624.80,259.90 L625.20,259.98 L625.60,260.06 L626.00,260.14 L626.40,260.21 L626.80,260.28 L627.20,260.35 L627.60,260.41 L628.00,260.48 L628.40,260.54 L628.80,260.59 L629.20,260.65 L629.60,260.70 L630.00,260.75 L630.40,260.80 L630.80,260.84 L631.20,260.89 L631.60,260.93 L632.00,260.97 L632.40,261.01 L632.80,261.05 L633.20,261.08 L633.60,261.12 L634.00,261.15 L634.40,261.18 L634.80,261.21 L635.20,261.24 L635.60,261.27 L636.00,261.29 L636.40,261.32 L636.80,261.34 L637.20,261.37 L637.60,261.39 L638.00,261.41 L638.40,261.43 L638.80,261.45 L639.20,261.47 L639.60,261.49 L640.00,261.50 L640.40,261.52 L640.80,261.54 L641.20,261.55 L641.60,261.57 L642.00,261.58 L642.40,261.59 L642.80,261.61 L643.20,261.62 L643.60,261.63 L644.00,261.64 L644.40,261.65 L644.80,261.66 L645.20,261.67 L645.60,261.68 L646.00,261.69 L646.40,261.70 L646.80,261.71 L647.20,261.72 L647.60,261.72 L648.00,261.73 L648.40,261.74 L648.80,261.74 L649.20,261.75 L649.60,261.76 L650.00,261.76 L650.40,261.77 L650.80,261.77 L651.20,261.78 L651.60,261.78 L652.00,261.79 L652.40,261.79 L652.80,261.80 L653.20,261.80 L653.60,261.81 L654.00,261.81 L654.40,261.81 L654.80,261.82 L655.20,261.82 L655.60,261.82 L656.00,261.83 L656.40,261.83 L656.80,261.83 L657.20,261.84 L657.60,261.84 L658.00,261.84 L658.40,261.84 L658.80,261.85 L659.20,261.85 L659.60,261.85 L660.00,261.85 L660.40,261.85 L660.80,261.86 L661.20,261.86 L661.60,261.86 L662.00,261.86 L662.40,261.86 L662.80,261.86 L663.20,261.87 L663.60,261.87 L664.00,261.87 L664.40,261.87 L664.80,261.87 L665.20,261.87 L665.60,261.87 L666.00,261.88 L666.40,261.88 L666.80,261.88 L667.20,261.88 L667.60,261.88 L668.00,261.88 L668.40,261.88 L668.80,261.88 L669.20,261.88 L669.60,261.88 L670.00,261.88 L670.40,261.88 L670.80,261.89 L671.20,261.89 L671.60,261.89 L672.00,261.89 L672.40,261.89 L672.80,261.89 L673.20,261.89 L673.60,261.89 L674.00,261.89 L674.40,261.89 L674.80,261.89 L675.20,261.89 L675.60,261.89 L676.00,261.89 L676.40,261.89 L676.80,261.89 L677.20,261.89 L677.60,261.89 L678.00,261.89 L678.40,261.89 L678.80,261.89 L679.20,261.89 L679.60,261.89 L680.00,261.89 L680.40,261.89 L680.80,261.89 L681.20,261.90 L681.60,261.90 L682.00,261.90 L682.40,261.90 L682.80,261.90" stroke="#8b0000" stroke-width="1.85" fill="none" stroke-linejoin="round"/></g>
<g>
<text x="12.10" y="139.10" font-size="4.5" text-anchor="end" fill="#000" style="text-rendering:geometricPrecision">0.0</text>
<text x="12.10" y="111.65" font-size="4.5" text-anchor="end" fill="#000" style="text-rendering:geometricPrecision">2.5</text>
<text x="12.10" y="84.20" font-size="4.5" text-anchor="end" fill="#000" style="text-rendering:geometricPrecision">5.0</text>
<text x="12.10" y="56.75" font-size="4.5" text-anchor="end" fill="#000" style="text-rendering:geometricPrecision">7.5</text>
<text x="12.10" y="29.30" font-size="4.5" text-anchor="end" fill="#000" style="text-rendering:geometricPrecision">0.0</text>
<text x="15.90" y="145.30" font-size="7.2" text-anchor="middle" fill="#000">0.00</text>
<text x="36.05" y="145.30" font-size="7.2" text-anchor="middle" fill="#000">0.25</text>
<text x="56.20" y="145.30" font-size="7.2" text-anchor="middle" fill="#000">0.50</text>
<text x="76.35" y="145.30" font-size="7.2" text-anchor="middle" fill="#000">0.75</text>
<text x="96.50" y="145.30" font-size="7.2" text-anchor="middle" fill="#000">1.00</text>
<text x="122.10" y="139.10" font-size="4.5" text-anchor="end" fill="#000" style="text-rendering:geometricPrecision">0.0</text>
<text x="122.10" y="111.65" font-size="4.5" text-anchor="end" fill="#000" style="text-rendering:geometricPrecision">2.5</text>
<text x="122.10" y="84.20" font-size="4.5" text-anchor="end" fill="#000" style="text-rendering:geometricPrecision">5.0</text>
<text x="122.10" y="56.75" font-size="4.5" text-anchor="end" fill="#000" style="text-rendering:geometricPrecision">7.5</text>
<text x="122.10" y="29.30" font-size="4.5" text-anchor="end" fill="#000" style="text-rendering:geometricPrecision">10.0</text>
<text x="125.90" y="145.30" font-size="7.2" text-anchor="middle" fill="#000">0.00</text>
<text x="146.05" y="145.30" font-size="7.2" text-anchor="middle" fill="#000">0.25</text>
<text x="166.20" y="145.30" font-size="7.2" text-anchor="middle" fill="#000">0.50</text>
<text x="186.35" y="145.30" font-size="7.2" text-anchor="middle" fill="#000">0.75</text>
<text x="206.50" y="145.30" font-size="7.2" text-anchor="middle" fill="#000">1.00</text>
<text x="232.10" y="139.10" font-size="4.5" text-anchor="end" fill="#000" style="text-rendering:geometricPrecision">0.0</text>
<text x="232.10" y="111.65" font-size="4.5" text-anchor="end" fill="#000" style="text-rendering:geometricPrecision">2.5</text>
<text x="232.10" y="84.20" font-size="4.5" text-anchor="end" fill="#000" style="text-rendering:geometricPrecision">5.0</text>
<text x="232.10" y="56.75" font-size="4.5" text-anchor="end" fill="#000" style="text-rendering:geometricPrecision">7.5</text>
<text x="232.10" y="29.30" font-size="4.5" text-anchor="end" fill="#000" style="text-rendering:geometricPrecision">10.0</text>
<text x="235.90" y="145.30" font-size="7.2" text-anchor="middle" fill="#000">0.00</text>
<text x="256.05" y="145.30" font-size="7.2" text-anchor="middle" fill="#000">0.25</text>
<text x="276.20" y="145.30" font-size="7.2" text-anchor="middle" fill="#000">0.50</text>
<text x="296.35" y="145.30" font-size="7.2" text-anchor="middle" fill="#000">0.75</text>
<text x="316.50" y="145.30" font-size="7.2" text-anchor="middle" fill="#000">1.00</text>
<text x="12.10" y="262.15" font-size="4.5" text-anchor="end" fill="#000" style="text-rendering:geometricPrecision">0.0</text>
<text x="12.10" y="234.90" font-size="4.5" text-anchor="end" fill="#000" style="text-rendering:geometricPrecision">2.5</text>
<text x="12.10" y="207.65" font-size="4.5" text-anchor="end" fill="#000" style="text-rendering:geometricPrecision">5.0</text>
<text x="12.10" y="180.40" font-size="4.5" text-anchor="end" fill="#000" style="text-rendering:geometricPrecision">7.5</text>
<text x="12.10" y="153.15" font-size="4.5" text-anchor="end" fill="#000" style="text-rendering:geometricPrecision">0.0</text>
<text x="15.90" y="268.60" font-size="7.2" text-anchor="middle" fill="#000">0.00</text>
<text x="36.05" y="268.60" font-size="7.2" text-anchor="middle" fill="#000">0.25</text>
<text x="56.20" y="268.60" font-size="7.2" text-anchor="middle" fill="#000">0.50</text>
<text x="76.35" y="268.60" font-size="7.2" text-anchor="middle" fill="#000">0.75</text>
<text x="96.50" y="268.60" font-size="7.2" text-anchor="middle" fill="#000">1.00</text>
<text x="122.10" y="262.15" font-size="4.5" text-anchor="end" fill="#000" style="text-rendering:geometricPrecision">0.0</text>
<text x="122.10" y="234.90" font-size="4.5" text-anchor="end" fill="#000" style="text-rendering:geometricPrecision">2.5</text>
<text x="122.10" y="207.65" font-size="4.5" text-anchor="end" fill="#000" style="text-rendering:geometricPrecision">5.0</text>
<text x="122.10" y="180.40" font-size="4.5" text-anchor="end" fill="#000" style="text-rendering:geometricPrecision">7.5</text>
<text x="122.10" y="153.15" font-size="4.5" text-anchor="end" fill="#000" style="text-rendering:geometricPrecision">10.0</text>
<text x="125.90" y="268.60" font-size="7.2" text-anchor="middle" fill="#000">0.00</text>
<text x="146.05" y="268.60" font-size="7.2" text-anchor="middle" fill="#000">0.25</text>
<text x="166.20" y="268.60" font-size="7.2" text-anchor="middle" fill="#000">0.50</text>
<text x="186.35" y="268.60" font-size="7.2" text-anchor="middle" fill="#000">0.75</text>
<text x="206.50" y="268.60" font-size="7.2" text-anchor="middle" fill="#000">1.00</text>
<text x="232.10" y="262.15" font-size="4.5" text-anchor="end" fill="#000" style="text-rendering:geometricPrecision">0.0</text>
<text x="232.10" y="234.90" font-size="4.5" text-anchor="end" fill="#000" style="text-rendering:geometricPrecision">2.5</text>
<text x="232.10" y="207.65" font-size="4.5" text-anchor="end" fill="#000" style="text-rendering:geometricPrecision">5.0</text>
<text x="232.10" y="180.40" font-size="4.5" text-anchor="end" fill="#000" style="text-rendering:geometricPrecision">7.5</text>
<text x="232.10" y="153.15" font-size="4.5" text-anchor="end" fill="#000" style="text-rendering:geometricPrecision">10.0</text>
<text x="235.90" y="268.60" font-size="7.2" text-anchor="middle" fill="#000">0.00</text>
<text x="256.05" y="268.60" font-size="7.2" text-anchor="middle" fill="#000">0.25</text>
<text x="276.20" y="268.60" font-size="7.2" text-anchor="middle" fill="#000">0.50</text>
<text x="296.35" y="268.60" font-size="7.2" text-anchor="middle" fill="#000">0.75</text>
<text x="316.50" y="268.60" font-size="7.2" text-anchor="middle" fill="#000">1.00</text>
<text x="363.80" y="143.90" font-size="7.2" text-anchor="middle" fill="#000">0.0</text>
<text x="391.90" y="143.90" font-size="7.2" text-anchor="middle" fill="#000">0.5</text>
<text x="420.00" y="143.90" font-size="7.2" text-anchor="middle" fill="#000">1.0</text>
<text x="448.10" y="143.90" font-size="7.2" text-anchor="middle" fill="#000">1.5</text>
<text x="473.90" y="143.90" font-size="7.2" text-anchor="middle" fill="#000">0.0</text>
<text x="502.00" y="143.90" font-size="7.2" text-anchor="middle" fill="#000">0.5</text>
<text x="530.10" y="143.90" font-size="7.2" text-anchor="middle" fill="#000">1.0</text>
<text x="558.20" y="143.90" font-size="7.2" text-anchor="middle" fill="#000">1.5</text>
<text x="584.00" y="143.90" font-size="7.2" text-anchor="middle" fill="#000">0.0</text>
<text x="612.10" y="143.90" font-size="7.2" text-anchor="middle" fill="#000">0.5</text>
<text x="640.20" y="143.90" font-size="7.2" text-anchor="middle" fill="#000">1.0</text>
<text x="668.30" y="143.90" font-size="7.2" text-anchor="middle" fill="#000">1.5</text>
<text x="363.30" y="269.40" font-size="7.2" text-anchor="middle" fill="#000">0.0</text>
<text x="391.40" y="269.40" font-size="7.2" text-anchor="middle" fill="#000">0.5</text>
<text x="419.50" y="269.40" font-size="7.2" text-anchor="middle" fill="#000">1.0</text>
<text x="447.60" y="269.40" font-size="7.2" text-anchor="middle" fill="#000">1.5</text>
<text x="473.30" y="269.40" font-size="7.2" text-anchor="middle" fill="#000">0.0</text>
<text x="501.40" y="269.40" font-size="7.2" text-anchor="middle" fill="#000">0.5</text>
<text x="529.50" y="269.40" font-size="7.2" text-anchor="middle" fill="#000">1.0</text>
<text x="557.60" y="269.40" font-size="7.2" text-anchor="middle" fill="#000">1.5</text>
<text x="583.70" y="269.40" font-size="7.2" text-anchor="middle" fill="#000">0.0</text>
<text x="611.80" y="269.40" font-size="7.2" text-anchor="middle" fill="#000">0.5</text>
<text x="639.90" y="269.40" font-size="7.2" text-anchor="middle" fill="#000">1.0</text>
<text x="668.00" y="269.40" font-size="7.2" text-anchor="middle" fill="#000">1.5</text>
<text x="62.90" y="19.00" font-size="14.0" text-anchor="middle" stroke="#000" stroke-width="0.25">Participant 1</text>
<text x="178.90" y="19.00" font-size="14.0" text-anchor="middle" stroke="#000" stroke-width="0.25">Participant 2</text>
<text x="287.30" y="19.00" font-size="14.0" text-anchor="middle" stroke="#000" stroke-width="0.25">Participant 3</text>
<text x="62.50" y="167.20" font-size="14.0" text-anchor="middle" stroke="#000" stroke-width="0.25">Participant 4</text>
<text x="178.40" y="167.20" font-size="14.0" text-anchor="middle" stroke="#000" stroke-width="0.25">Participant 5</text>
<text x="287.40" y="167.20" font-size="14.0" text-anchor="middle" stroke="#000" stroke-width="0.25">Participant 6</text>
<text x="408.10" y="19.00" font-size="13.9" text-anchor="middle" stroke="#000" stroke-width="0.25">Participant 1</text>
<text x="528.30" y="19.00" font-size="13.9" text-anchor="middle" stroke="#000" stroke-width="0.25">Participant 2</text>
<text x="636.80" y="19.00" font-size="13.9" text-anchor="middle" stroke="#000" stroke-width="0.25">Participant 3</text>
<text x="407.40" y="166.90" font-size="13.9" text-anchor="middle" stroke="#000" stroke-width="0.25">Participant 4</text>
<text x="528.40" y="166.90" font-size="13.9" text-anchor="middle" stroke="#000" stroke-width="0.25">Participant 5</text>
<text x="636.80" y="166.90" font-size="13.9" text-anchor="middle" stroke="#000" stroke-width="0.25">Participant 6</text>
<text x="-1.2" y="10.3" font-size="17" stroke="#000" stroke-width="0.3">a</text>
<text x="360.8" y="12.3" font-size="16.5" stroke="#000" stroke-width="0.1">b</text>
<text x="176.3" y="286" font-size="14" text-anchor="middle" stroke="#000" stroke-width="0.25">Reaction time (s)</text>
<text x="528.2" y="286" font-size="14" text-anchor="middle" stroke="#000" stroke-width="0.25">Reaction time (s)</text>
</g></svg></body></html>
